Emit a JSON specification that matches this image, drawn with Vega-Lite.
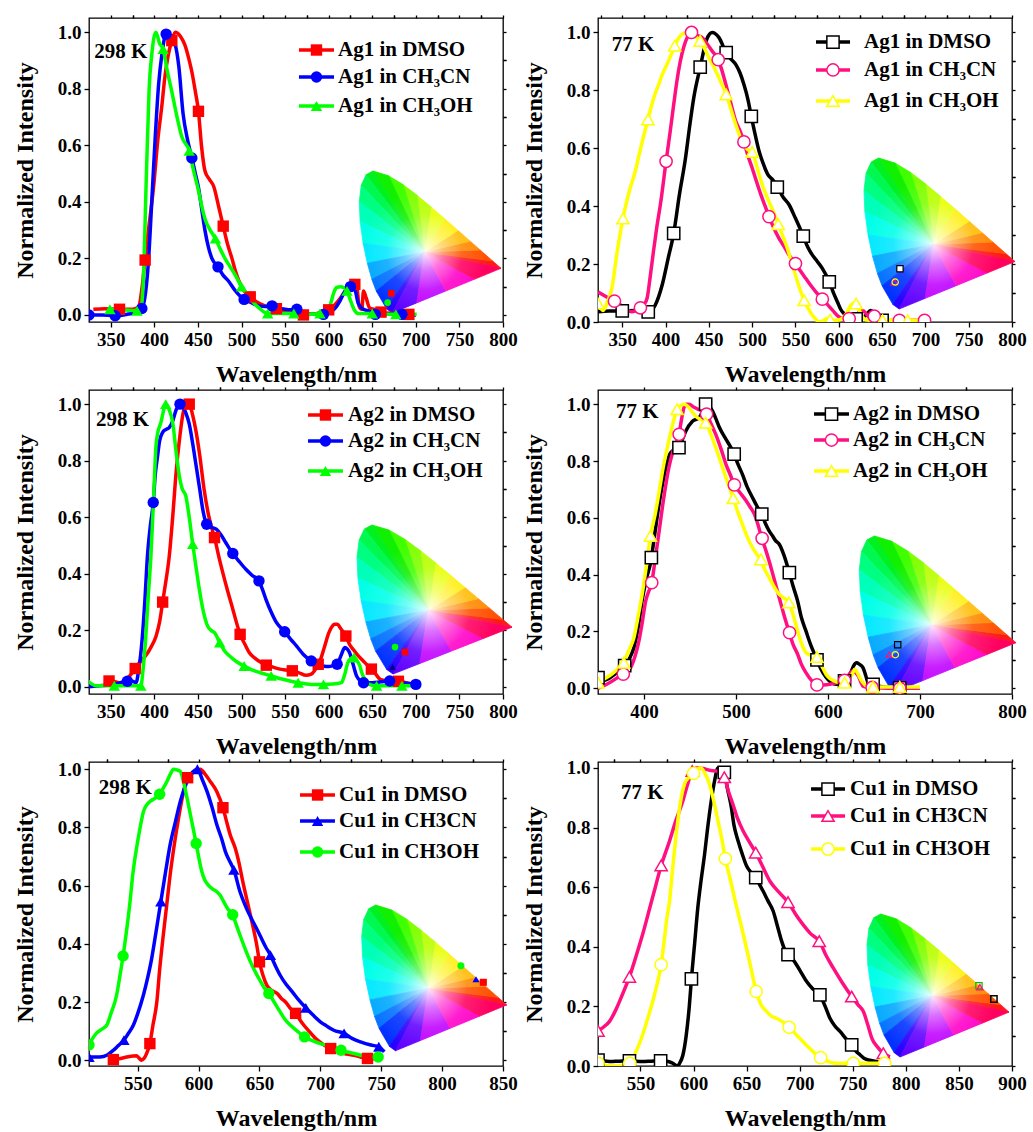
{
"$schema":"https://vega.github.io/schema/vega-lite/v6.json",
"background":"white",
"padding":{"left":12,"top":13,"right":0,"bottom":0},
"datasets":{
"cieT":[
{"t":"T0","cx":0.34,"y":0.36,"y2":0.36},{"t":"T0","cx":0.6915,"y":0.3083,"y2":0.2757},{"t":"T0","cx":0.7347,"y":0.2653,"y2":0.2653},
{"t":"T1","cx":0.34,"y":0.36,"y2":0.36},{"t":"T1","cx":0.627,"y":0.3725,"y2":0.3178},{"t":"T1","cx":0.6915,"y":0.3083,"y2":0.3083},
{"t":"T2","cx":0.34,"y":0.36,"y2":0.36},{"t":"T2","cx":0.5752,"y":0.4242,"y2":0.3702},{"t":"T2","cx":0.627,"y":0.3725,"y2":0.3725},
{"t":"T3","cx":0.34,"y":0.36,"y2":0.36},{"t":"T3","cx":0.5125,"y":0.4866,"y2":0.4071},{"t":"T3","cx":0.5752,"y":0.4242,"y2":0.4242},
{"t":"T4","cx":0.34,"y":0.36,"y2":0.36},{"t":"T4","cx":0.4441,"y":0.5547,"y2":0.4364},{"t":"T4","cx":0.5125,"y":0.4866,"y2":0.4866},
{"t":"T5","cx":0.34,"y":0.36,"y2":0.36},{"t":"T5","cx":0.3731,"y":0.6245,"y2":0.4219},{"t":"T5","cx":0.4441,"y":0.5547,"y2":0.5547},
{"t":"T6","cx":0.3016,"y":0.6923,"y2":0.6923},{"t":"T6","cx":0.34,"y":0.36,"y2":0.6559},{"t":"T6","cx":0.3731,"y":0.6245,"y2":0.6245},
{"t":"T7","cx":0.2296,"y":0.7543,"y2":0.7543},{"t":"T7","cx":0.3016,"y":0.6923,"y2":0.4971},{"t":"T7","cx":0.34,"y":0.36,"y2":0.36},
{"t":"T8","cx":0.1547,"y":0.8059,"y2":0.8059},{"t":"T8","cx":0.2296,"y":0.7543,"y2":0.6257},{"t":"T8","cx":0.34,"y":0.36,"y2":0.36},
{"t":"T9","cx":0.0743,"y":0.8338,"y2":0.8338},{"t":"T9","cx":0.1547,"y":0.8059,"y2":0.6904},{"t":"T9","cx":0.34,"y":0.36,"y2":0.36},
{"t":"T10","cx":0.0389,"y":0.812,"y2":0.812},{"t":"T10","cx":0.0743,"y":0.8338,"y2":0.7589},{"t":"T10","cx":0.34,"y":0.36,"y2":0.36},
{"t":"T11","cx":0.0139,"y":0.7502,"y2":0.7502},{"t":"T11","cx":0.0389,"y":0.812,"y2":0.7203},{"t":"T11","cx":0.34,"y":0.36,"y2":0.36},
{"t":"T12","cx":0.0039,"y":0.6548,"y2":0.6548},{"t":"T12","cx":0.0139,"y":0.7502,"y2":0.646},{"t":"T12","cx":0.34,"y":0.36,"y2":0.36},
{"t":"T13","cx":0.0039,"y":0.6548,"y2":0.6548},{"t":"T13","cx":0.0082,"y":0.5384,"y2":0.651},{"t":"T13","cx":0.34,"y":0.36,"y2":0.36},
{"t":"T14","cx":0.0082,"y":0.5384,"y2":0.5384},{"t":"T14","cx":0.0235,"y":0.4127,"y2":0.5302},{"t":"T14","cx":0.34,"y":0.36,"y2":0.36},
{"t":"T15","cx":0.0235,"y":0.4127,"y2":0.4127},{"t":"T15","cx":0.0454,"y":0.295,"y2":0.4091},{"t":"T15","cx":0.34,"y":0.36,"y2":0.36},
{"t":"T16","cx":0.0454,"y":0.295,"y2":0.295},{"t":"T16","cx":0.0687,"y":0.2007,"y2":0.3001},{"t":"T16","cx":0.34,"y":0.36,"y2":0.36},
{"t":"T17","cx":0.0687,"y":0.2007,"y2":0.2007},{"t":"T17","cx":0.0913,"y":0.1327,"y2":0.214},{"t":"T17","cx":0.34,"y":0.36,"y2":0.36},
{"t":"T18","cx":0.0913,"y":0.1327,"y2":0.1327},{"t":"T18","cx":0.144,"y":0.0297,"y2":0.1809},{"t":"T18","cx":0.34,"y":0.36,"y2":0.36},
{"t":"T19","cx":0.144,"y":0.0297,"y2":0.0297},{"t":"T19","cx":0.1741,"y":0.005,"y2":0.0804},{"t":"T19","cx":0.34,"y":0.36,"y2":0.36},
{"t":"T20","cx":0.1741,"y":0.005,"y2":0.005},{"t":"T20","cx":0.3,"y":0.0635,"y2":0.2744},{"t":"T20","cx":0.34,"y":0.36,"y2":0.36},
{"t":"T21","cx":0.3,"y":0.0635,"y2":0.0635},{"t":"T21","cx":0.34,"y":0.36,"y2":0.0821},{"t":"T21","cx":0.45,"y":0.1331,"y2":0.1331},
{"t":"T22","cx":0.34,"y":0.36,"y2":0.36},{"t":"T22","cx":0.45,"y":0.1331,"y2":0.2934},{"t":"T22","cx":0.6,"y":0.2027,"y2":0.2027},
{"t":"T23","cx":0.34,"y":0.36,"y2":0.36},{"t":"T23","cx":0.6,"y":0.2027,"y2":0.2976},{"t":"T23","cx":0.7347,"y":0.2653,"y2":0.2653}
],
"cieH":[
{"cx":0.0039,"top":0.6548,"bot":0.6548},{"cx":0.0082,"top":0.6958,"bot":0.5384},{"cx":0.0139,"top":0.7502,"bot":0.4916},{"cx":0.0235,"top":0.7739,"bot":0.4127},{"cx":0.0389,"top":0.812,"bot":0.3299},{"cx":0.0454,"top":0.816,"bot":0.295},{"cx":0.0687,"top":0.8304,"bot":0.2007},{"cx":0.0743,"top":0.8338,"bot":0.1839},{"cx":0.0913,"top":0.8306,"bot":0.1327},{"cx":0.1096,"top":0.8271,"bot":0.0868},{"cx":0.1142,"top":0.8262,"bot":0.0776},{"cx":0.1241,"top":0.8212,"bot":0.0578},{"cx":0.144,"top":0.8113,"bot":0.0297},{"cx":0.1547,"top":0.8059,"bot":0.0199},{"cx":0.1666,"top":0.7977,"bot":0.0089},{"cx":0.1741,"top":0.7925,"bot":0.005},{"cx":0.2296,"top":0.7543,"bot":0.0308},{"cx":0.3016,"top":0.6923,"bot":0.0642},{"cx":0.3731,"top":0.6245,"bot":0.0974},{"cx":0.4441,"top":0.5547,"bot":0.1304},{"cx":0.5125,"top":0.4866,"bot":0.1621},{"cx":0.5752,"top":0.4242,"bot":0.1912},{"cx":0.627,"top":0.3725,"bot":0.2153},{"cx":0.6915,"top":0.3083,"bot":0.2452},{"cx":0.726,"top":0.274,"bot":0.2612},{"cx":0.7347,"top":0.2653,"bot":0.2653}
],
"l1":[
{"s":"D","w":330,"v":0.02},{"s":"D","w":343,"v":0.022},{"s":"D","w":360,"v":0.02},{"s":"D","w":375,"v":0.02},{"s":"D","w":382,"v":0.03},{"s":"D","w":386,"v":0.1},{"s":"D","w":389,"v":0.19},{"s":"D","w":394,"v":0.32},{"s":"D","w":399,"v":0.45},{"s":"D","w":404,"v":0.62},{"s":"D","w":408.6,"v":0.74},{"s":"D","w":412,"v":0.84},{"s":"D","w":416,"v":0.92},{"s":"D","w":420,"v":0.97},{"s":"D","w":424,"v":1},{"s":"D","w":430,"v":0.985},{"s":"D","w":435,"v":0.955},{"s":"D","w":440,"v":0.9},{"s":"D","w":443,"v":0.86},{"s":"D","w":447,"v":0.79},{"s":"D","w":450.6,"v":0.72},{"s":"D","w":454,"v":0.6},{"s":"D","w":458,"v":0.51},{"s":"D","w":463,"v":0.48},{"s":"D","w":468,"v":0.455},{"s":"D","w":474,"v":0.38},{"s":"D","w":479,"v":0.314},{"s":"D","w":484,"v":0.25},{"s":"D","w":489,"v":0.2},{"s":"D","w":493,"v":0.155},{"s":"D","w":497,"v":0.12},{"s":"D","w":503,"v":0.085},{"s":"D","w":510,"v":0.064},{"s":"D","w":518,"v":0.045},{"s":"D","w":527,"v":0.032},{"s":"D","w":535,"v":0.025},{"s":"D","w":542.5,"v":0.02},{"s":"D","w":550,"v":0.012},{"s":"D","w":558,"v":0.008},{"s":"D","w":565,"v":0.003},{"s":"D","w":571,"v":0},{"s":"D","w":580,"v":0.002},{"s":"D","w":590,"v":0.008},{"s":"D","w":598,"v":0.014},{"s":"D","w":605,"v":0.03},{"s":"D","w":611,"v":0.05},{"s":"D","w":617,"v":0.075},{"s":"D","w":623,"v":0.096},{"s":"D","w":628,"v":0.11},{"s":"D","w":632,"v":0.105},{"s":"D","w":635,"v":0.03},{"s":"D","w":638,"v":0.02},{"s":"D","w":640,"v":0.085},{"s":"D","w":643,"v":0.06},{"s":"D","w":647,"v":0.025},{"s":"D","w":652,"v":0.02},{"s":"D","w":661,"v":0.01},{"s":"D","w":675,"v":0.005},{"s":"D","w":692,"v":0.002},{"s":"D","w":700,"v":0},
{"s":"C","w":325,"v":0},{"s":"C","w":340,"v":0},{"s":"C","w":355,"v":-0.003},{"s":"C","w":370,"v":0.003},{"s":"C","w":380,"v":0.01},{"s":"C","w":385.6,"v":0.023},{"s":"C","w":389,"v":0.06},{"s":"C","w":393,"v":0.18},{"s":"C","w":397,"v":0.4},{"s":"C","w":401,"v":0.63},{"s":"C","w":405,"v":0.82},{"s":"C","w":408.6,"v":0.92},{"s":"C","w":413.5,"v":0.993},{"s":"C","w":418,"v":0.99},{"s":"C","w":424,"v":0.955},{"s":"C","w":428,"v":0.88},{"s":"C","w":433,"v":0.71},{"s":"C","w":438,"v":0.62},{"s":"C","w":443,"v":0.555},{"s":"C","w":447,"v":0.5},{"s":"C","w":450.6,"v":0.45},{"s":"C","w":455,"v":0.36},{"s":"C","w":458,"v":0.3},{"s":"C","w":462,"v":0.24},{"s":"C","w":466,"v":0.2},{"s":"C","w":473,"v":0.17},{"s":"C","w":479,"v":0.14},{"s":"C","w":485,"v":0.12},{"s":"C","w":493,"v":0.085},{"s":"C","w":498,"v":0.068},{"s":"C","w":503,"v":0.055},{"s":"C","w":510,"v":0.045},{"s":"C","w":520,"v":0.032},{"s":"C","w":527,"v":0.03},{"s":"C","w":535,"v":0.032},{"s":"C","w":542,"v":0.025},{"s":"C","w":550,"v":0.02},{"s":"C","w":557,"v":0.018},{"s":"C","w":563.5,"v":0.02},{"s":"C","w":570,"v":0.01},{"s":"C","w":581,"v":0.002},{"s":"C","w":594,"v":0.002},{"s":"C","w":604,"v":0.014},{"s":"C","w":609,"v":0.03},{"s":"C","w":613,"v":0.05},{"s":"C","w":619,"v":0.085},{"s":"C","w":625,"v":0.1},{"s":"C","w":628,"v":0.095},{"s":"C","w":630.5,"v":0.085},{"s":"C","w":634,"v":0.04},{"s":"C","w":640,"v":0.02},{"s":"C","w":646,"v":0.014},{"s":"C","w":653.5,"v":0.002},{"s":"C","w":670,"v":0.002},{"s":"C","w":684,"v":0.002},{"s":"C","w":700,"v":0},
{"s":"O","w":349,"v":0.02},{"s":"O","w":365,"v":0.018},{"s":"O","w":378,"v":0.015},{"s":"O","w":384,"v":0.015},{"s":"O","w":387,"v":0.1},{"s":"O","w":391,"v":0.51},{"s":"O","w":394,"v":0.8},{"s":"O","w":397,"v":0.92},{"s":"O","w":401.7,"v":1},{"s":"O","w":406,"v":0.96},{"s":"O","w":410,"v":0.94},{"s":"O","w":415,"v":0.86},{"s":"O","w":420,"v":0.79},{"s":"O","w":426,"v":0.7},{"s":"O","w":431.5,"v":0.63},{"s":"O","w":440,"v":0.58},{"s":"O","w":445,"v":0.51},{"s":"O","w":450.6,"v":0.44},{"s":"O","w":454,"v":0.39},{"s":"O","w":458,"v":0.34},{"s":"O","w":464,"v":0.3},{"s":"O","w":470,"v":0.27},{"s":"O","w":476,"v":0.23},{"s":"O","w":481,"v":0.2},{"s":"O","w":487,"v":0.17},{"s":"O","w":493,"v":0.14},{"s":"O","w":500,"v":0.1},{"s":"O","w":506,"v":0.075},{"s":"O","w":512,"v":0.05},{"s":"O","w":520,"v":0.025},{"s":"O","w":530,"v":0.005},{"s":"O","w":546,"v":0.005},{"s":"O","w":560,"v":0.005},{"s":"O","w":577,"v":0.002},{"s":"O","w":590,"v":0.005},{"s":"O","w":597,"v":0.015},{"s":"O","w":602,"v":0.038},{"s":"O","w":606,"v":0.08},{"s":"O","w":609,"v":0.097},{"s":"O","w":614,"v":0.1},{"s":"O","w":617,"v":0.097},{"s":"O","w":621,"v":0.085},{"s":"O","w":624,"v":0.06},{"s":"O","w":626.6,"v":0.038},{"s":"O","w":630,"v":0.015},{"s":"O","w":634,"v":0.005},{"s":"O","w":650,"v":0.005},{"s":"O","w":676.5,"v":0.002},{"s":"O","w":701,"v":0.002}
],
"m1":[
{"s":"D","w":360,"v":0.02},{"s":"D","w":389.4,"v":0.194},{"s":"D","w":420,"v":0.97},{"s":"D","w":450.6,"v":0.72},{"s":"D","w":479,"v":0.314},{"s":"D","w":510,"v":0.064},{"s":"D","w":540,"v":0.022},{"s":"D","w":571,"v":0},{"s":"D","w":600,"v":0.018},{"s":"D","w":630,"v":0.108},{"s":"D","w":660,"v":0.01},{"s":"D","w":692,"v":0.002},
{"s":"C","w":325,"v":0},{"s":"C","w":355,"v":-0.003},{"s":"C","w":385.6,"v":0.023},{"s":"C","w":413.5,"v":0.993},{"s":"C","w":443,"v":0.555},{"s":"C","w":473,"v":0.17},{"s":"C","w":503,"v":0.055},{"s":"C","w":535,"v":0.032},{"s":"C","w":563.5,"v":0.02},{"s":"C","w":594,"v":0.002},{"s":"C","w":625,"v":0.1},{"s":"C","w":653.5,"v":0.002},{"s":"C","w":684,"v":0.002},
{"s":"O","w":349,"v":0.02},{"s":"O","w":380,"v":0.015},{"s":"O","w":410,"v":0.94},{"s":"O","w":440,"v":0.58},{"s":"O","w":470,"v":0.27},{"s":"O","w":500,"v":0.1},{"s":"O","w":530,"v":0.005},{"s":"O","w":560,"v":0.005},{"s":"O","w":590,"v":0.005},{"s":"O","w":621,"v":0.085},{"s":"O","w":650,"v":0.005},{"s":"O","w":677,"v":0.002}
],
"l2":[
{"s":"D","w":322,"v":0.035},{"s":"D","w":335,"v":0.038},{"s":"D","w":350,"v":0.038},{"s":"D","w":365,"v":0.04},{"s":"D","w":380,"v":0.035},{"s":"D","w":388,"v":0.058},{"s":"D","w":396,"v":0.127},{"s":"D","w":403,"v":0.22},{"s":"D","w":409.4,"v":0.306},{"s":"D","w":416,"v":0.44},{"s":"D","w":423,"v":0.566},{"s":"D","w":428,"v":0.68},{"s":"D","w":432.6,"v":0.775},{"s":"D","w":440,"v":0.88},{"s":"D","w":448,"v":0.98},{"s":"D","w":453.8,"v":1},{"s":"D","w":461.5,"v":0.983},{"s":"D","w":470,"v":0.93},{"s":"D","w":475,"v":0.91},{"s":"D","w":481,"v":0.89},{"s":"D","w":486,"v":0.86},{"s":"D","w":490.5,"v":0.82},{"s":"D","w":495,"v":0.77},{"s":"D","w":499,"v":0.71},{"s":"D","w":504,"v":0.64},{"s":"D","w":508,"v":0.59},{"s":"D","w":513,"v":0.545},{"s":"D","w":518,"v":0.51},{"s":"D","w":524,"v":0.49},{"s":"D","w":529,"v":0.466},{"s":"D","w":536,"v":0.43},{"s":"D","w":542.6,"v":0.405},{"s":"D","w":550,"v":0.358},{"s":"D","w":559,"v":0.297},{"s":"D","w":564,"v":0.26},{"s":"D","w":569.6,"v":0.231},{"s":"D","w":575,"v":0.21},{"s":"D","w":581,"v":0.185},{"s":"D","w":589,"v":0.139},{"s":"D","w":594,"v":0.1},{"s":"D","w":598.5,"v":0.069},{"s":"D","w":602,"v":0.045},{"s":"D","w":606,"v":0.029},{"s":"D","w":616,"v":0.012},{"s":"D","w":623.6,"v":0.009},{"s":"D","w":631,"v":0.023},{"s":"D","w":637,"v":0.04},{"s":"D","w":641,"v":0.03},{"s":"D","w":645,"v":0.015},{"s":"D","w":650.6,"v":0.006},{"s":"D","w":665,"v":0.004},{"s":"D","w":680,"v":0.004},
{"s":"C","w":322,"v":0.104},{"s":"C","w":330,"v":0.09},{"s":"C","w":341,"v":0.072},{"s":"C","w":350,"v":0.055},{"s":"C","w":361,"v":0.035},{"s":"C","w":366,"v":0.04},{"s":"C","w":371,"v":0.049},{"s":"C","w":375,"v":0.06},{"s":"C","w":378.6,"v":0.081},{"s":"C","w":382,"v":0.15},{"s":"C","w":386,"v":0.243},{"s":"C","w":390,"v":0.33},{"s":"C","w":394,"v":0.405},{"s":"C","w":400.6,"v":0.555},{"s":"C","w":405,"v":0.65},{"s":"C","w":409.4,"v":0.751},{"s":"C","w":413,"v":0.83},{"s":"C","w":417,"v":0.9},{"s":"C","w":421,"v":0.95},{"s":"C","w":425,"v":0.983},{"s":"C","w":430,"v":1},{"s":"C","w":436,"v":0.99},{"s":"C","w":442,"v":0.983},{"s":"C","w":448,"v":0.96},{"s":"C","w":453.8,"v":0.936},{"s":"C","w":460.8,"v":0.906},{"s":"C","w":465,"v":0.87},{"s":"C","w":469,"v":0.827},{"s":"C","w":475,"v":0.76},{"s":"C","w":481,"v":0.694},{"s":"C","w":486,"v":0.66},{"s":"C","w":490.5,"v":0.622},{"s":"C","w":495,"v":0.575},{"s":"C","w":500,"v":0.532},{"s":"C","w":505,"v":0.485},{"s":"C","w":510,"v":0.44},{"s":"C","w":515,"v":0.4},{"s":"C","w":519.4,"v":0.364},{"s":"C","w":525,"v":0.325},{"s":"C","w":531,"v":0.289},{"s":"C","w":537,"v":0.26},{"s":"C","w":542.6,"v":0.231},{"s":"C","w":550,"v":0.202},{"s":"C","w":556,"v":0.175},{"s":"C","w":562,"v":0.15},{"s":"C","w":568,"v":0.125},{"s":"C","w":573.5,"v":0.104},{"s":"C","w":581,"v":0.079},{"s":"C","w":587,"v":0.06},{"s":"C","w":593,"v":0.04},{"s":"C","w":600.5,"v":0.017},{"s":"C","w":606,"v":0.012},{"s":"C","w":612,"v":0.012},{"s":"C","w":620,"v":0.023},{"s":"C","w":624,"v":0.035},{"s":"C","w":627.5,"v":0.04},{"s":"C","w":631,"v":0.03},{"s":"C","w":635,"v":0.017},{"s":"C","w":643,"v":0.006},{"s":"C","w":655,"v":0.005},{"s":"C","w":670,"v":0.006},{"s":"C","w":685,"v":0.006},{"s":"C","w":699,"v":0.006},
{"s":"O","w":322,"v":0.064},{"s":"O","w":328,"v":0.04},{"s":"O","w":333,"v":0.07},{"s":"O","w":338,"v":0.116},{"s":"O","w":344,"v":0.24},{"s":"O","w":350.8,"v":0.358},{"s":"O","w":358,"v":0.45},{"s":"O","w":365,"v":0.52},{"s":"O","w":372,"v":0.61},{"s":"O","w":379.7,"v":0.7},{"s":"O","w":386,"v":0.77},{"s":"O","w":392,"v":0.82},{"s":"O","w":397,"v":0.86},{"s":"O","w":401.7,"v":0.89},{"s":"O","w":406,"v":0.92},{"s":"O","w":410.6,"v":0.954},{"s":"O","w":415,"v":0.98},{"s":"O","w":419,"v":0.994},{"s":"O","w":425,"v":1},{"s":"O","w":432,"v":0.99},{"s":"O","w":440,"v":0.971},{"s":"O","w":445,"v":0.945},{"s":"O","w":450,"v":0.913},{"s":"O","w":456,"v":0.88},{"s":"O","w":461.5,"v":0.844},{"s":"O","w":466,"v":0.815},{"s":"O","w":470,"v":0.786},{"s":"O","w":475,"v":0.74},{"s":"O","w":481,"v":0.682},{"s":"O","w":486,"v":0.64},{"s":"O","w":490.5,"v":0.613},{"s":"O","w":495,"v":0.595},{"s":"O","w":500,"v":0.587},{"s":"O","w":506,"v":0.53},{"s":"O","w":511.7,"v":0.474},{"s":"O","w":516,"v":0.44},{"s":"O","w":521,"v":0.405},{"s":"O","w":526,"v":0.37},{"s":"O","w":530,"v":0.338},{"s":"O","w":535,"v":0.3},{"s":"O","w":540.7,"v":0.254},{"s":"O","w":545,"v":0.21},{"s":"O","w":550,"v":0.162},{"s":"O","w":555,"v":0.115},{"s":"O","w":560,"v":0.075},{"s":"O","w":565,"v":0.045},{"s":"O","w":569.6,"v":0.023},{"s":"O","w":574,"v":0.008},{"s":"O","w":577,"v":0},{"s":"O","w":582,"v":0.005},{"s":"O","w":587,"v":0.012},{"s":"O","w":593,"v":0.006},{"s":"O","w":598,"v":0.006},{"s":"O","w":604,"v":0.012},{"s":"O","w":609,"v":0.03},{"s":"O","w":614,"v":0.058},{"s":"O","w":617,"v":0.065},{"s":"O","w":620,"v":0.064},{"s":"O","w":623,"v":0.045},{"s":"O","w":627.5,"v":0.017},{"s":"O","w":631,"v":0.008},{"s":"O","w":635,"v":0.006},{"s":"O","w":650.6,"v":0.006},{"s":"O","w":665,"v":0.006},{"s":"O","w":679.6,"v":0.006},{"s":"O","w":701,"v":0.006}
],
"m2":[
{"s":"D","w":350,"v":0.038},{"s":"D","w":380,"v":0.035},{"s":"D","w":409.4,"v":0.306},{"s":"D","w":440,"v":0.88},{"s":"D","w":470,"v":0.93},{"s":"D","w":499,"v":0.71},{"s":"D","w":529,"v":0.466},{"s":"D","w":559,"v":0.297},{"s":"D","w":589,"v":0.139},{"s":"D","w":620,"v":0.011},{"s":"D","w":650,"v":0.006},
{"s":"C","w":341,"v":0.072},{"s":"C","w":371,"v":0.049},{"s":"C","w":400.6,"v":0.555},{"s":"C","w":430,"v":1},{"s":"C","w":460.8,"v":0.906},{"s":"C","w":490.5,"v":0.622},{"s":"C","w":519.4,"v":0.364},{"s":"C","w":550,"v":0.202},{"s":"C","w":581,"v":0.079},{"s":"C","w":612,"v":0.012},{"s":"C","w":641,"v":0.02},{"s":"C","w":670,"v":0.006},{"s":"C","w":699,"v":0.006},
{"s":"O","w":322,"v":0.064},{"s":"O","w":350.8,"v":0.358},{"s":"O","w":379.7,"v":0.7},{"s":"O","w":410.6,"v":0.954},{"s":"O","w":440,"v":0.971},{"s":"O","w":470,"v":0.786},{"s":"O","w":500,"v":0.587},{"s":"O","w":530,"v":0.338},{"s":"O","w":560,"v":0.075},{"s":"O","w":590,"v":0.008},{"s":"O","w":620,"v":0.064},{"s":"O","w":650.6,"v":0.006},{"s":"O","w":679.6,"v":0.006}
],
"l3":[
{"s":"D","w":348,"v":0.021},{"s":"D","w":355,"v":0.018},{"s":"D","w":359.6,"v":0.015},{"s":"D","w":365,"v":0.02},{"s":"D","w":372,"v":0.04},{"s":"D","w":378,"v":0.065},{"s":"D","w":384,"v":0.09},{"s":"D","w":390,"v":0.11},{"s":"D","w":396,"v":0.14},{"s":"D","w":402,"v":0.18},{"s":"D","w":406,"v":0.23},{"s":"D","w":409.5,"v":0.3},{"s":"D","w":413,"v":0.37},{"s":"D","w":417,"v":0.46},{"s":"D","w":421,"v":0.6},{"s":"D","w":425,"v":0.76},{"s":"D","w":429,"v":0.88},{"s":"D","w":434,"v":0.98},{"s":"D","w":440,"v":1},{"s":"D","w":444,"v":0.96},{"s":"D","w":448,"v":0.9},{"s":"D","w":452,"v":0.82},{"s":"D","w":457,"v":0.7},{"s":"D","w":462,"v":0.61},{"s":"D","w":466,"v":0.56},{"s":"D","w":469,"v":0.528},{"s":"D","w":474,"v":0.46},{"s":"D","w":478.5,"v":0.404},{"s":"D","w":484,"v":0.34},{"s":"D","w":490,"v":0.275},{"s":"D","w":494,"v":0.23},{"s":"D","w":498.4,"v":0.186},{"s":"D","w":504,"v":0.15},{"s":"D","w":509,"v":0.121},{"s":"D","w":516,"v":0.1},{"s":"D","w":522.6,"v":0.086},{"s":"D","w":528,"v":0.077},{"s":"D","w":536,"v":0.07},{"s":"D","w":544,"v":0.063},{"s":"D","w":551,"v":0.06},{"s":"D","w":558,"v":0.057},{"s":"D","w":566,"v":0.05},{"s":"D","w":574,"v":0.041},{"s":"D","w":580,"v":0.045},{"s":"D","w":586,"v":0.068},{"s":"D","w":591,"v":0.1},{"s":"D","w":595.5,"v":0.145},{"s":"D","w":600,"v":0.19},{"s":"D","w":603,"v":0.21},{"s":"D","w":607,"v":0.222},{"s":"D","w":610,"v":0.222},{"s":"D","w":613,"v":0.21},{"s":"D","w":616.6,"v":0.195},{"s":"D","w":619.7,"v":0.18},{"s":"D","w":624,"v":0.15},{"s":"D","w":628,"v":0.133},{"s":"D","w":634,"v":0.11},{"s":"D","w":639.6,"v":0.092},{"s":"D","w":645,"v":0.075},{"s":"D","w":649,"v":0.063},{"s":"D","w":654,"v":0.045},{"s":"D","w":659,"v":0.027},{"s":"D","w":665,"v":0.022},{"s":"D","w":672,"v":0.02},{"s":"D","w":680,"v":0.02},{"s":"D","w":690,"v":0.014},{"s":"D","w":699,"v":0.009},
{"s":"C","w":324,"v":0},{"s":"C","w":340,"v":0.005},{"s":"C","w":355,"v":0.01},{"s":"C","w":369,"v":0.02},{"s":"C","w":375,"v":0.02},{"s":"C","w":379,"v":0.015},{"s":"C","w":382,"v":0.06},{"s":"C","w":386,"v":0.17},{"s":"C","w":389,"v":0.3},{"s":"C","w":392,"v":0.46},{"s":"C","w":395,"v":0.56},{"s":"C","w":398.7,"v":0.652},{"s":"C","w":401,"v":0.75},{"s":"C","w":403.7,"v":0.817},{"s":"C","w":406,"v":0.87},{"s":"C","w":409.5,"v":0.9},{"s":"C","w":413,"v":0.91},{"s":"C","w":417,"v":0.917},{"s":"C","w":421,"v":0.94},{"s":"C","w":425,"v":0.98},{"s":"C","w":429.4,"v":1},{"s":"C","w":433,"v":0.99},{"s":"C","w":436,"v":0.97},{"s":"C","w":440,"v":0.93},{"s":"C","w":444,"v":0.86},{"s":"C","w":448,"v":0.78},{"s":"C","w":452,"v":0.7},{"s":"C","w":456,"v":0.62},{"s":"C","w":460,"v":0.575},{"s":"C","w":465,"v":0.565},{"s":"C","w":471,"v":0.558},{"s":"C","w":476,"v":0.54},{"s":"C","w":482,"v":0.51},{"s":"C","w":486,"v":0.49},{"s":"C","w":490,"v":0.472},{"s":"C","w":497,"v":0.445},{"s":"C","w":505,"v":0.416},{"s":"C","w":512,"v":0.395},{"s":"C","w":520,"v":0.375},{"s":"C","w":524,"v":0.345},{"s":"C","w":528,"v":0.31},{"s":"C","w":534,"v":0.265},{"s":"C","w":540,"v":0.228},{"s":"C","w":549.5,"v":0.195},{"s":"C","w":556,"v":0.17},{"s":"C","w":563,"v":0.145},{"s":"C","w":571,"v":0.115},{"s":"C","w":580,"v":0.092},{"s":"C","w":587,"v":0.08},{"s":"C","w":593.6,"v":0.074},{"s":"C","w":600,"v":0.072},{"s":"C","w":605,"v":0.075},{"s":"C","w":609.7,"v":0.08},{"s":"C","w":614,"v":0.11},{"s":"C","w":618.5,"v":0.139},{"s":"C","w":621,"v":0.135},{"s":"C","w":624,"v":0.121},{"s":"C","w":628,"v":0.08},{"s":"C","w":632,"v":0.039},{"s":"C","w":636,"v":0.022},{"s":"C","w":640,"v":0.015},{"s":"C","w":650,"v":0.015},{"s":"C","w":660,"v":0.018},{"s":"C","w":670,"v":0.021},{"s":"C","w":685,"v":0.015},{"s":"C","w":700,"v":0.009},
{"s":"O","w":324,"v":0.021},{"s":"O","w":333,"v":0.004},{"s":"O","w":345,"v":0.004},{"s":"O","w":354,"v":0.004},{"s":"O","w":370,"v":0.004},{"s":"O","w":384.5,"v":0.004},{"s":"O","w":387,"v":0.06},{"s":"O","w":390,"v":0.17},{"s":"O","w":393,"v":0.32},{"s":"O","w":396,"v":0.46},{"s":"O","w":399,"v":0.66},{"s":"O","w":401.8,"v":0.85},{"s":"O","w":404,"v":0.9},{"s":"O","w":407.5,"v":0.935},{"s":"O","w":410,"v":0.97},{"s":"O","w":413,"v":1},{"s":"O","w":417,"v":0.98},{"s":"O","w":421,"v":0.935},{"s":"O","w":425,"v":0.83},{"s":"O","w":428.6,"v":0.746},{"s":"O","w":432,"v":0.7},{"s":"O","w":436,"v":0.676},{"s":"O","w":440,"v":0.6},{"s":"O","w":444,"v":0.505},{"s":"O","w":448,"v":0.42},{"s":"O","w":451.6,"v":0.345},{"s":"O","w":456,"v":0.27},{"s":"O","w":461,"v":0.216},{"s":"O","w":465,"v":0.2},{"s":"O","w":469,"v":0.192},{"s":"O","w":475,"v":0.157},{"s":"O","w":480,"v":0.13},{"s":"O","w":486,"v":0.11},{"s":"O","w":494,"v":0.09},{"s":"O","w":503,"v":0.074},{"s":"O","w":512,"v":0.06},{"s":"O","w":520.7,"v":0.051},{"s":"O","w":534,"v":0.039},{"s":"O","w":547.5,"v":0.027},{"s":"O","w":565,"v":0.015},{"s":"O","w":580,"v":0.009},{"s":"O","w":594,"v":0.009},{"s":"O","w":605,"v":0.01},{"s":"O","w":614.7,"v":0.015},{"s":"O","w":618,"v":0.04},{"s":"O","w":622,"v":0.086},{"s":"O","w":625,"v":0.1},{"s":"O","w":629,"v":0.104},{"s":"O","w":632,"v":0.095},{"s":"O","w":635.8,"v":0.074},{"s":"O","w":638,"v":0.05},{"s":"O","w":641.5,"v":0.027},{"s":"O","w":646,"v":0.01},{"s":"O","w":655,"v":0.004},{"s":"O","w":670,"v":0.004},{"s":"O","w":684,"v":0.004},{"s":"O","w":699,"v":0.004}
],
"m3":[
{"s":"D","w":348,"v":0.021},{"s":"D","w":378,"v":0.065},{"s":"D","w":409.5,"v":0.3},{"s":"D","w":440,"v":1},{"s":"D","w":469,"v":0.528},{"s":"D","w":498.4,"v":0.186},{"s":"D","w":528.4,"v":0.077},{"s":"D","w":558.3,"v":0.057},{"s":"D","w":588,"v":0.08},{"s":"D","w":619.7,"v":0.18},{"s":"D","w":649,"v":0.063},{"s":"D","w":680,"v":0.02},
{"s":"C","w":369,"v":0.02},{"s":"C","w":398.7,"v":0.652},{"s":"C","w":429.4,"v":1},{"s":"C","w":460,"v":0.575},{"s":"C","w":490,"v":0.472},{"s":"C","w":520,"v":0.375},{"s":"C","w":549.5,"v":0.195},{"s":"C","w":580,"v":0.092},{"s":"C","w":609.7,"v":0.08},{"s":"C","w":640,"v":0.015},{"s":"C","w":670,"v":0.021},{"s":"C","w":700,"v":0.009},
{"s":"O","w":354,"v":0.004},{"s":"O","w":384.5,"v":0.004},{"s":"O","w":413,"v":1},{"s":"O","w":444,"v":0.505},{"s":"O","w":475,"v":0.157},{"s":"O","w":503,"v":0.074},{"s":"O","w":534,"v":0.039},{"s":"O","w":565,"v":0.015},{"s":"O","w":594,"v":0.009},{"s":"O","w":629,"v":0.104},{"s":"O","w":655,"v":0.004},{"s":"O","w":684,"v":0.004}
],
"l4":[
{"s":"D","w":350,"v":0.038},{"s":"D","w":354.5,"v":0.026},{"s":"D","w":362,"v":0.035},{"s":"D","w":372.7,"v":0.061},{"s":"D","w":380,"v":0.08},{"s":"D","w":385,"v":0.11},{"s":"D","w":389,"v":0.143},{"s":"D","w":394,"v":0.22},{"s":"D","w":398,"v":0.31},{"s":"D","w":403,"v":0.39},{"s":"D","w":407,"v":0.44},{"s":"D","w":412,"v":0.55},{"s":"D","w":416,"v":0.64},{"s":"D","w":420,"v":0.718},{"s":"D","w":424,"v":0.78},{"s":"D","w":428,"v":0.824},{"s":"D","w":433,"v":0.84},{"s":"D","w":438,"v":0.847},{"s":"D","w":441,"v":0.87},{"s":"D","w":445.5,"v":0.906},{"s":"D","w":452.7,"v":0.94},{"s":"D","w":460,"v":0.953},{"s":"D","w":463,"v":0.97},{"s":"D","w":466.5,"v":1},{"s":"D","w":470,"v":0.995},{"s":"D","w":474.5,"v":0.976},{"s":"D","w":478,"v":0.95},{"s":"D","w":482,"v":0.918},{"s":"D","w":489,"v":0.877},{"s":"D","w":494,"v":0.85},{"s":"D","w":498,"v":0.824},{"s":"D","w":502,"v":0.79},{"s":"D","w":507,"v":0.753},{"s":"D","w":512,"v":0.71},{"s":"D","w":518,"v":0.671},{"s":"D","w":523,"v":0.64},{"s":"D","w":528,"v":0.613},{"s":"D","w":532,"v":0.58},{"s":"D","w":536,"v":0.554},{"s":"D","w":540,"v":0.535},{"s":"D","w":543,"v":0.52},{"s":"D","w":547,"v":0.507},{"s":"D","w":552,"v":0.47},{"s":"D","w":558,"v":0.407},{"s":"D","w":562,"v":0.36},{"s":"D","w":567,"v":0.307},{"s":"D","w":571,"v":0.25},{"s":"D","w":576,"v":0.202},{"s":"D","w":581,"v":0.155},{"s":"D","w":587,"v":0.108},{"s":"D","w":592,"v":0.07},{"s":"D","w":598,"v":0.038},{"s":"D","w":603,"v":0.022},{"s":"D","w":609,"v":0.014},{"s":"D","w":614,"v":0.018},{"s":"D","w":618,"v":0.026},{"s":"D","w":622,"v":0.04},{"s":"D","w":625.5,"v":0.061},{"s":"D","w":628,"v":0.08},{"s":"D","w":631,"v":0.09},{"s":"D","w":634,"v":0.085},{"s":"D","w":638,"v":0.073},{"s":"D","w":641,"v":0.045},{"s":"D","w":643.6,"v":0.02},{"s":"D","w":649,"v":0.014},{"s":"D","w":660,"v":0.005},{"s":"D","w":678,"v":0.002},{"s":"D","w":700,"v":0.002},
{"s":"C","w":350,"v":0},{"s":"C","w":360,"v":0.015},{"s":"C","w":370,"v":0.035},{"s":"C","w":376,"v":0.049},{"s":"C","w":381,"v":0.06},{"s":"C","w":385.5,"v":0.073},{"s":"C","w":390,"v":0.11},{"s":"C","w":394.5,"v":0.167},{"s":"C","w":398,"v":0.23},{"s":"C","w":401.8,"v":0.307},{"s":"C","w":405,"v":0.34},{"s":"C","w":408.4,"v":0.372},{"s":"C","w":412,"v":0.45},{"s":"C","w":416,"v":0.542},{"s":"C","w":421,"v":0.66},{"s":"C","w":427,"v":0.777},{"s":"C","w":432,"v":0.84},{"s":"C","w":438,"v":0.894},{"s":"C","w":441,"v":0.95},{"s":"C","w":443.6,"v":0.99},{"s":"C","w":446,"v":1},{"s":"C","w":449,"v":1},{"s":"C","w":454,"v":0.99},{"s":"C","w":459,"v":0.982},{"s":"C","w":464,"v":0.975},{"s":"C","w":468,"v":0.965},{"s":"C","w":473,"v":0.93},{"s":"C","w":478,"v":0.894},{"s":"C","w":484,"v":0.84},{"s":"C","w":489,"v":0.789},{"s":"C","w":494,"v":0.75},{"s":"C","w":498,"v":0.716},{"s":"C","w":504,"v":0.69},{"s":"C","w":511,"v":0.66},{"s":"C","w":515,"v":0.64},{"s":"C","w":520,"v":0.613},{"s":"C","w":524,"v":0.575},{"s":"C","w":528,"v":0.528},{"s":"C","w":532,"v":0.49},{"s":"C","w":536,"v":0.448},{"s":"C","w":541,"v":0.39},{"s":"C","w":547,"v":0.319},{"s":"C","w":552,"v":0.26},{"s":"C","w":558,"v":0.196},{"s":"C","w":562,"v":0.155},{"s":"C","w":567,"v":0.12},{"s":"C","w":571,"v":0.085},{"s":"C","w":576,"v":0.055},{"s":"C","w":582,"v":0.028},{"s":"C","w":588,"v":0.012},{"s":"C","w":595,"v":0.012},{"s":"C","w":602,"v":0.014},{"s":"C","w":610,"v":0.02},{"s":"C","w":618,"v":0.028},{"s":"C","w":622,"v":0.045},{"s":"C","w":627,"v":0.061},{"s":"C","w":630,"v":0.055},{"s":"C","w":633,"v":0.043},{"s":"C","w":636,"v":0.02},{"s":"C","w":638,"v":0.008},{"s":"C","w":645,"v":0.003},{"s":"C","w":651,"v":0.002},{"s":"C","w":678,"v":0},{"s":"C","w":700,"v":0},
{"s":"O","w":350,"v":0.02},{"s":"O","w":356,"v":0.032},{"s":"O","w":365,"v":0.05},{"s":"O","w":372,"v":0.07},{"s":"O","w":378,"v":0.09},{"s":"O","w":383,"v":0.13},{"s":"O","w":389,"v":0.178},{"s":"O","w":394,"v":0.26},{"s":"O","w":398,"v":0.331},{"s":"O","w":403,"v":0.44},{"s":"O","w":407,"v":0.536},{"s":"O","w":412,"v":0.61},{"s":"O","w":416,"v":0.683},{"s":"O","w":421,"v":0.78},{"s":"O","w":427,"v":0.871},{"s":"O","w":432,"v":0.94},{"s":"O","w":436,"v":0.982},{"s":"O","w":440,"v":0.995},{"s":"O","w":443.6,"v":1},{"s":"O","w":449,"v":0.988},{"s":"O","w":453,"v":0.97},{"s":"O","w":458,"v":0.953},{"s":"O","w":463,"v":0.945},{"s":"O","w":467,"v":0.935},{"s":"O","w":472,"v":0.9},{"s":"O","w":478,"v":0.847},{"s":"O","w":484,"v":0.79},{"s":"O","w":489,"v":0.742},{"s":"O","w":497,"v":0.669},{"s":"O","w":502,"v":0.62},{"s":"O","w":507,"v":0.577},{"s":"O","w":512,"v":0.535},{"s":"O","w":518,"v":0.495},{"s":"O","w":523,"v":0.47},{"s":"O","w":527,"v":0.454},{"s":"O","w":531,"v":0.42},{"s":"O","w":536,"v":0.39},{"s":"O","w":541,"v":0.36},{"s":"O","w":547,"v":0.331},{"s":"O","w":551,"v":0.32},{"s":"O","w":557.5,"v":0.302},{"s":"O","w":562,"v":0.26},{"s":"O","w":567,"v":0.202},{"s":"O","w":571,"v":0.16},{"s":"O","w":576,"v":0.126},{"s":"O","w":582,"v":0.115},{"s":"O","w":588,"v":0.11},{"s":"O","w":593,"v":0.08},{"s":"O","w":598,"v":0.049},{"s":"O","w":602,"v":0.035},{"s":"O","w":607,"v":0.026},{"s":"O","w":612,"v":0.02},{"s":"O","w":618,"v":0.02},{"s":"O","w":624,"v":0.038},{"s":"O","w":627,"v":0.055},{"s":"O","w":629,"v":0.067},{"s":"O","w":631,"v":0.06},{"s":"O","w":634.5,"v":0.038},{"s":"O","w":638,"v":0.02},{"s":"O","w":642,"v":0.008},{"s":"O","w":649,"v":0.005},{"s":"O","w":665,"v":0.005},{"s":"O","w":678,"v":0.005},{"s":"O","w":700,"v":0.005}
],
"m4":[
{"s":"D","w":350,"v":0.038},{"s":"D","w":379,"v":0.08},{"s":"D","w":408,"v":0.46},{"s":"D","w":438,"v":0.847},{"s":"D","w":467,"v":1},{"s":"D","w":498,"v":0.824},{"s":"D","w":528,"v":0.613},{"s":"D","w":558,"v":0.407},{"s":"D","w":588,"v":0.1},{"s":"D","w":618,"v":0.026},{"s":"D","w":649,"v":0.014},{"s":"D","w":678,"v":0.002},
{"s":"C","w":377.5,"v":0.05},{"s":"C","w":408.4,"v":0.372},{"s":"C","w":438.2,"v":0.894},{"s":"C","w":468,"v":0.965},{"s":"C","w":498.2,"v":0.716},{"s":"C","w":528.4,"v":0.528},{"s":"C","w":558.2,"v":0.196},{"s":"C","w":588,"v":0.012},{"s":"C","w":618,"v":0.028},{"s":"C","w":648,"v":0.003},{"s":"C","w":678,"v":0},
{"s":"O","w":350,"v":0.02},{"s":"O","w":378,"v":0.09},{"s":"O","w":407,"v":0.536},{"s":"O","w":436,"v":0.982},{"s":"O","w":467,"v":0.935},{"s":"O","w":497,"v":0.669},{"s":"O","w":527,"v":0.454},{"s":"O","w":557.5,"v":0.302},{"s":"O","w":588,"v":0.11},{"s":"O","w":618,"v":0.02},{"s":"O","w":649,"v":0.005},{"s":"O","w":678,"v":0.005}
],
"l5":[
{"s":"D","w":530,"v":0.002},{"s":"D","w":536,"v":0.006},{"s":"D","w":541,"v":0.011},{"s":"D","w":546,"v":0.014},{"s":"D","w":549,"v":0.015},{"s":"D","w":551,"v":0.008},{"s":"D","w":553,"v":0},{"s":"D","w":555,"v":0.005},{"s":"D","w":557,"v":0.02},{"s":"D","w":560,"v":0.057},{"s":"D","w":562.5,"v":0.12},{"s":"D","w":565.7,"v":0.2},{"s":"D","w":568,"v":0.31},{"s":"D","w":571,"v":0.43},{"s":"D","w":574,"v":0.54},{"s":"D","w":576.6,"v":0.636},{"s":"D","w":580,"v":0.74},{"s":"D","w":583.5,"v":0.831},{"s":"D","w":587,"v":0.91},{"s":"D","w":591,"v":0.971},{"s":"D","w":594,"v":0.985},{"s":"D","w":597,"v":0.992},{"s":"D","w":601.4,"v":1},{"s":"D","w":605,"v":0.985},{"s":"D","w":609.6,"v":0.958},{"s":"D","w":615,"v":0.923},{"s":"D","w":620,"v":0.868},{"s":"D","w":623,"v":0.82},{"s":"D","w":626,"v":0.774},{"s":"D","w":630,"v":0.73},{"s":"D","w":633,"v":0.682},{"s":"D","w":636,"v":0.62},{"s":"D","w":640,"v":0.545},{"s":"D","w":643,"v":0.49},{"s":"D","w":645,"v":0.453},{"s":"D","w":648,"v":0.39},{"s":"D","w":650,"v":0.338},{"s":"D","w":653,"v":0.29},{"s":"D","w":656,"v":0.258},{"s":"D","w":660,"v":0.24},{"s":"D","w":664.6,"v":0.229},{"s":"D","w":668,"v":0.212},{"s":"D","w":671.4,"v":0.2},{"s":"D","w":675,"v":0.18},{"s":"D","w":679.7,"v":0.161},{"s":"D","w":683,"v":0.14},{"s":"D","w":686.5,"v":0.12},{"s":"D","w":691,"v":0.098},{"s":"D","w":696,"v":0.075},{"s":"D","w":702,"v":0.055},{"s":"D","w":708.5,"v":0.04},{"s":"D","w":714,"v":0.03},{"s":"D","w":719.5,"v":0.023},{"s":"D","w":727.7,"v":0.017},{"s":"D","w":733,"v":0.011},{"s":"D","w":738.7,"v":0.006},{"s":"D","w":745,"v":0.005},{"s":"D","w":750,"v":0.004},
{"s":"C","w":510,"v":0.011},{"s":"C","w":519,"v":0.011},{"s":"C","w":525,"v":0.018},{"s":"C","w":530,"v":0.034},{"s":"C","w":534,"v":0.05},{"s":"C","w":538.7,"v":0.069},{"s":"C","w":542,"v":0.09},{"s":"C","w":546.4,"v":0.12},{"s":"C","w":550,"v":0.16},{"s":"C","w":554.7,"v":0.224},{"s":"C","w":558,"v":0.28},{"s":"C","w":561.5,"v":0.35},{"s":"C","w":565,"v":0.44},{"s":"C","w":569,"v":0.545},{"s":"C","w":573,"v":0.65},{"s":"C","w":576.6,"v":0.74},{"s":"C","w":581,"v":0.82},{"s":"C","w":585,"v":0.889},{"s":"C","w":588,"v":0.93},{"s":"C","w":591.8,"v":0.969},{"s":"C","w":595,"v":0.99},{"s":"C","w":599,"v":1},{"s":"C","w":603,"v":0.965},{"s":"C","w":607,"v":0.923},{"s":"C","w":611,"v":0.87},{"s":"C","w":615,"v":0.809},{"s":"C","w":619,"v":0.76},{"s":"C","w":622,"v":0.717},{"s":"C","w":626,"v":0.68},{"s":"C","w":629,"v":0.654},{"s":"C","w":634,"v":0.579},{"s":"C","w":638,"v":0.535},{"s":"C","w":642.6,"v":0.493},{"s":"C","w":647,"v":0.458},{"s":"C","w":651,"v":0.424},{"s":"C","w":655,"v":0.39},{"s":"C","w":659,"v":0.361},{"s":"C","w":663,"v":0.325},{"s":"C","w":667,"v":0.292},{"s":"C","w":672,"v":0.26},{"s":"C","w":677,"v":0.235},{"s":"C","w":682,"v":0.208},{"s":"C","w":688,"v":0.18},{"s":"C","w":694,"v":0.155},{"s":"C","w":700,"v":0.132},{"s":"C","w":705,"v":0.118},{"s":"C","w":711,"v":0.103},{"s":"C","w":719.5,"v":0.092},{"s":"C","w":726,"v":0.075},{"s":"C","w":733,"v":0.063},{"s":"C","w":741.5,"v":0.052},{"s":"C","w":748,"v":0.046},{"s":"C","w":752.5,"v":0.029},
{"s":"O","w":510,"v":0.052},{"s":"O","w":513,"v":0.075},{"s":"O","w":516,"v":0.092},{"s":"O","w":520,"v":0.105},{"s":"O","w":524.5,"v":0.12},{"s":"O","w":528,"v":0.16},{"s":"O","w":532.7,"v":0.224},{"s":"O","w":535,"v":0.28},{"s":"O","w":538,"v":0.358},{"s":"O","w":541,"v":0.45},{"s":"O","w":543.7,"v":0.545},{"s":"O","w":546,"v":0.64},{"s":"O","w":549,"v":0.728},{"s":"O","w":552,"v":0.8},{"s":"O","w":554.7,"v":0.854},{"s":"O","w":557,"v":0.875},{"s":"O","w":560,"v":0.889},{"s":"O","w":564,"v":0.9},{"s":"O","w":568,"v":0.914},{"s":"O","w":571,"v":0.935},{"s":"O","w":574,"v":0.958},{"s":"O","w":577,"v":0.985},{"s":"O","w":579.4,"v":1},{"s":"O","w":582,"v":0.998},{"s":"O","w":585,"v":0.992},{"s":"O","w":587.5,"v":0.96},{"s":"O","w":590,"v":0.912},{"s":"O","w":592.5,"v":0.86},{"s":"O","w":595,"v":0.808},{"s":"O","w":598,"v":0.745},{"s":"O","w":600,"v":0.7},{"s":"O","w":602.7,"v":0.648},{"s":"O","w":605,"v":0.62},{"s":"O","w":608,"v":0.602},{"s":"O","w":611,"v":0.59},{"s":"O","w":615,"v":0.579},{"s":"O","w":618,"v":0.565},{"s":"O","w":620.6,"v":0.545},{"s":"O","w":624,"v":0.52},{"s":"O","w":628,"v":0.5},{"s":"O","w":631,"v":0.465},{"s":"O","w":634,"v":0.43},{"s":"O","w":638,"v":0.385},{"s":"O","w":642.6,"v":0.338},{"s":"O","w":647,"v":0.3},{"s":"O","w":651,"v":0.27},{"s":"O","w":654,"v":0.248},{"s":"O","w":657.7,"v":0.229},{"s":"O","w":662,"v":0.2},{"s":"O","w":667,"v":0.166},{"s":"O","w":671,"v":0.14},{"s":"O","w":675.5,"v":0.12},{"s":"O","w":681,"v":0.1},{"s":"O","w":687,"v":0.08},{"s":"O","w":693,"v":0.068},{"s":"O","w":700,"v":0.057},{"s":"O","w":705,"v":0.052},{"s":"O","w":711,"v":0.046},{"s":"O","w":717,"v":0.034},{"s":"O","w":722,"v":0.028},{"s":"O","w":727.7,"v":0.023},{"s":"O","w":733,"v":0.017},{"s":"O","w":738.7,"v":0.011},{"s":"O","w":747.5,"v":0.011}
],
"m5":[
{"s":"D","w":530,"v":0.002},{"s":"D","w":560,"v":0.057},{"s":"D","w":591,"v":0.971},{"s":"D","w":620,"v":0.868},{"s":"D","w":650,"v":0.338},{"s":"D","w":679.7,"v":0.161},{"s":"D","w":708.5,"v":0.04},{"s":"D","w":738.7,"v":0.006},
{"s":"C","w":510,"v":0.011},{"s":"C","w":538.7,"v":0.069},{"s":"C","w":569,"v":0.545},{"s":"C","w":599,"v":1},{"s":"C","w":629,"v":0.654},{"s":"C","w":659,"v":0.361},{"s":"C","w":688,"v":0.18},{"s":"C","w":719.5,"v":0.092},{"s":"C","w":748,"v":0.046},
{"s":"O","w":510,"v":0.052},{"s":"O","w":538,"v":0.358},{"s":"O","w":568,"v":0.914},{"s":"O","w":598,"v":0.745},{"s":"O","w":628,"v":0.5},{"s":"O","w":657.7,"v":0.229},{"s":"O","w":687,"v":0.08},{"s":"O","w":717,"v":0.034},{"s":"O","w":747.5,"v":0.011}
],
"l6":[
{"s":"D","w":510,"v":0.02},{"s":"D","w":520.7,"v":0.015},{"s":"D","w":530,"v":0.016},{"s":"D","w":539.6,"v":0.017},{"s":"D","w":552,"v":0.015},{"s":"D","w":560,"v":0.016},{"s":"D","w":569,"v":0.017},{"s":"D","w":575,"v":0.016},{"s":"D","w":580,"v":0.01},{"s":"D","w":585,"v":0},{"s":"D","w":587,"v":0.01},{"s":"D","w":590,"v":0.037},{"s":"D","w":593,"v":0.1},{"s":"D","w":596,"v":0.2},{"s":"D","w":598,"v":0.292},{"s":"D","w":601,"v":0.41},{"s":"D","w":604,"v":0.53},{"s":"D","w":607,"v":0.62},{"s":"D","w":610.4,"v":0.71},{"s":"D","w":613,"v":0.79},{"s":"D","w":616.7,"v":0.89},{"s":"D","w":620,"v":0.96},{"s":"D","w":623,"v":1},{"s":"D","w":626,"v":0.995},{"s":"D","w":629,"v":0.985},{"s":"D","w":632,"v":0.93},{"s":"D","w":635.6,"v":0.868},{"s":"D","w":638,"v":0.81},{"s":"D","w":642,"v":0.755},{"s":"D","w":646,"v":0.71},{"s":"D","w":650,"v":0.671},{"s":"D","w":654,"v":0.65},{"s":"D","w":658.6,"v":0.632},{"s":"D","w":662,"v":0.61},{"s":"D","w":665.5,"v":0.587},{"s":"D","w":670,"v":0.555},{"s":"D","w":675,"v":0.52},{"s":"D","w":679,"v":0.47},{"s":"D","w":683,"v":0.419},{"s":"D","w":686,"v":0.39},{"s":"D","w":689,"v":0.374},{"s":"D","w":693,"v":0.36},{"s":"D","w":697,"v":0.34},{"s":"D","w":702,"v":0.31},{"s":"D","w":706.4,"v":0.284},{"s":"D","w":712,"v":0.26},{"s":"D","w":719,"v":0.239},{"s":"D","w":724,"v":0.2},{"s":"D","w":728.5,"v":0.16},{"s":"D","w":733,"v":0.135},{"s":"D","w":738,"v":0.116},{"s":"D","w":744,"v":0.09},{"s":"D","w":749,"v":0.071},{"s":"D","w":753,"v":0.05},{"s":"D","w":757,"v":0.037},{"s":"D","w":761,"v":0.025},{"s":"D","w":764.7,"v":0.02},{"s":"D","w":772.5,"v":0.015},{"s":"D","w":780,"v":0.012},
{"s":"C","w":510,"v":0.118},{"s":"C","w":515,"v":0.13},{"s":"C","w":520.7,"v":0.149},{"s":"C","w":527,"v":0.19},{"s":"C","w":533,"v":0.24},{"s":"C","w":539.6,"v":0.299},{"s":"C","w":546,"v":0.37},{"s":"C","w":552,"v":0.441},{"s":"C","w":558,"v":0.52},{"s":"C","w":564,"v":0.6},{"s":"C","w":569.5,"v":0.673},{"s":"C","w":574,"v":0.72},{"s":"C","w":577.4,"v":0.755},{"s":"C","w":583,"v":0.82},{"s":"C","w":590,"v":0.89},{"s":"C","w":594,"v":0.94},{"s":"C","w":598.8,"v":0.99},{"s":"C","w":603,"v":1},{"s":"C","w":609,"v":0.998},{"s":"C","w":615,"v":0.992},{"s":"C","w":621.5,"v":0.99},{"s":"C","w":629,"v":0.969},{"s":"C","w":633,"v":0.92},{"s":"C","w":637,"v":0.879},{"s":"C","w":641,"v":0.835},{"s":"C","w":646.6,"v":0.789},{"s":"C","w":652,"v":0.755},{"s":"C","w":658.6,"v":0.716},{"s":"C","w":665,"v":0.67},{"s":"C","w":672,"v":0.62},{"s":"C","w":680,"v":0.585},{"s":"C","w":689,"v":0.55},{"s":"C","w":696,"v":0.51},{"s":"C","w":703,"v":0.475},{"s":"C","w":710,"v":0.445},{"s":"C","w":718.4,"v":0.419},{"s":"C","w":725,"v":0.37},{"s":"C","w":731.6,"v":0.329},{"s":"C","w":740,"v":0.28},{"s":"C","w":749,"v":0.233},{"s":"C","w":755,"v":0.205},{"s":"C","w":760,"v":0.183},{"s":"C","w":764,"v":0.14},{"s":"C","w":768,"v":0.093},{"s":"C","w":773,"v":0.065},{"s":"C","w":778.8,"v":0.043},{"s":"C","w":785,"v":0.031},
{"s":"O","w":510,"v":0.009},{"s":"O","w":515,"v":0.004},{"s":"O","w":520.7,"v":0},{"s":"O","w":533,"v":0},{"s":"O","w":540,"v":0.009},{"s":"O","w":546,"v":0.05},{"s":"O","w":552,"v":0.104},{"s":"O","w":556,"v":0.15},{"s":"O","w":561.6,"v":0.217},{"s":"O","w":566,"v":0.28},{"s":"O","w":569.5,"v":0.34},{"s":"O","w":572,"v":0.41},{"s":"O","w":575,"v":0.5},{"s":"O","w":577.4,"v":0.553},{"s":"O","w":580,"v":0.65},{"s":"O","w":583.7,"v":0.778},{"s":"O","w":587,"v":0.87},{"s":"O","w":591.5,"v":0.946},{"s":"O","w":596,"v":0.97},{"s":"O","w":600,"v":0.982},{"s":"O","w":603,"v":0.995},{"s":"O","w":607,"v":1},{"s":"O","w":611,"v":0.98},{"s":"O","w":615,"v":0.946},{"s":"O","w":619,"v":0.89},{"s":"O","w":623,"v":0.823},{"s":"O","w":627,"v":0.755},{"s":"O","w":630,"v":0.696},{"s":"O","w":635,"v":0.62},{"s":"O","w":640,"v":0.542},{"s":"O","w":645,"v":0.47},{"s":"O","w":649.8,"v":0.396},{"s":"O","w":654,"v":0.33},{"s":"O","w":659,"v":0.25},{"s":"O","w":663,"v":0.21},{"s":"O","w":668.7,"v":0.183},{"s":"O","w":673,"v":0.168},{"s":"O","w":678,"v":0.16},{"s":"O","w":684,"v":0.148},{"s":"O","w":690,"v":0.13},{"s":"O","w":695,"v":0.112},{"s":"O","w":700,"v":0.093},{"s":"O","w":705,"v":0.075},{"s":"O","w":709.6,"v":0.059},{"s":"O","w":714,"v":0.043},{"s":"O","w":719.7,"v":0.028},{"s":"O","w":725,"v":0.018},{"s":"O","w":734.8,"v":0.009},{"s":"O","w":750.5,"v":0.009},{"s":"O","w":765,"v":0.009},{"s":"O","w":780,"v":0.009}
],
"m6":[
{"s":"D","w":510,"v":0.02},{"s":"D","w":539.6,"v":0.017},{"s":"D","w":569,"v":0.017},{"s":"D","w":598,"v":0.292},{"s":"D","w":629,"v":0.985},{"s":"D","w":658.6,"v":0.632},{"s":"D","w":689,"v":0.374},{"s":"D","w":719,"v":0.239},{"s":"D","w":749,"v":0.071},
{"s":"C","w":510,"v":0.118},{"s":"C","w":539.6,"v":0.299},{"s":"C","w":569.5,"v":0.673},{"s":"C","w":598.8,"v":0.99},{"s":"C","w":629,"v":0.969},{"s":"C","w":658.6,"v":0.716},{"s":"C","w":689,"v":0.55},{"s":"C","w":718.4,"v":0.419},{"s":"C","w":749,"v":0.233},{"s":"C","w":778.8,"v":0.043},
{"s":"O","w":510,"v":0.009},{"s":"O","w":540,"v":0.009},{"s":"O","w":569.5,"v":0.34},{"s":"O","w":600,"v":0.982},{"s":"O","w":630,"v":0.696},{"s":"O","w":659,"v":0.25},{"s":"O","w":690,"v":0.13},{"s":"O","w":719.7,"v":0.028},{"s":"O","w":750.5,"v":0.009},{"s":"O","w":780,"v":0.009}
]
},
"concat":[
{"width":414,"height":304,"layer":[
{"data":{"values":[{}]},"layer":[
{"data":{"name":"cieT"},"mark":{"type":"area","opacity":1,"strokeWidth":0.8},"encoding":{"x":{"field":"cx","type":"quantitative","scale":{"domain":[-1.3901,0.745],"nice":false,"zero":false},"axis":null},"y":{"field":"y","type":"quantitative","scale":{"domain":[-0.0482,1.7275],"nice":false,"zero":false},"axis":null},"y2":{"field":"y2"},"fill":{"field":"t","type":"nominal","scale":{"domain":["T0","T1","T2","T3","T4","T5","T6","T7","T8","T9","T10","T11","T12","T13","T14","T15","T16","T17","T18","T19","T20","T21","T22","T23"],"range":["#ff1a1a","#ff5000","#ff8800","#ffbb00","#ffee00","#e8ff00","#b8ff00","#80ff00","#40ff00","#10f000","#00f020","#00f850","#00ff80","#00ffb8","#00ffe8","#00e8ff","#00a8ff","#0070ff","#0030ff","#2800ff","#6000ff","#c000ff","#ff00c8","#ff0060"]},"legend":null},"stroke":{"field":"t","type":"nominal","scale":{"domain":["T0","T1","T2","T3","T4","T5","T6","T7","T8","T9","T10","T11","T12","T13","T14","T15","T16","T17","T18","T19","T20","T21","T22","T23"],"range":["#ff1a1a","#ff5000","#ff8800","#ffbb00","#ffee00","#e8ff00","#b8ff00","#80ff00","#40ff00","#10f000","#00f020","#00f850","#00ff80","#00ffb8","#00ffe8","#00e8ff","#00a8ff","#0070ff","#0030ff","#2800ff","#6000ff","#c000ff","#ff00c8","#ff0060"]},"legend":null}}},
{"data":{"name":"cieH"},"mark":{"type":"area","opacity":1,"fill":{"gradient":"radial","x1":0.46,"y1":0.57,"r1":0,"x2":0.46,"y2":0.57,"r2":0.45,"stops":[{"offset":0,"color":"rgba(255,255,255,0.92)"},{"offset":0.3,"color":"rgba(255,255,255,0.45)"},{"offset":0.6,"color":"rgba(255,255,255,0.12)"},{"offset":1,"color":"rgba(255,255,255,0)"}]}},"encoding":{"x":{"field":"cx","type":"quantitative","axis":null},"y":{"field":"top","type":"quantitative","axis":null},"y2":{"field":"bot"}}},
{"mark":{"type":"point","shape":"circle","filled":true,"color":"#00ff00","size":45,"opacity":1},"encoding":{"x":{"datum":0.15,"axis":null},"y":{"datum":0.065,"axis":null}}},
{"mark":{"type":"point","shape":"square","filled":true,"color":"#ff0000","size":45,"opacity":1},"encoding":{"x":{"datum":0.169,"axis":null},"y":{"datum":0.1195,"axis":null}}}
]},
{"data":{"values":[{}]},"layer":[
{"data":{"name":"l1"},"transform":[{"filter":"datum.s=='D'"}],"mark":{"type":"line","color":"#ff0000","strokeWidth":3.5,"interpolate":"monotone","clip":true},"encoding":{"x":{"field":"w","type":"quantitative","scale":{"domain":[325,800],"nice":false,"zero":false},"axis":{"values":[350,400,450,500,550,600,650,700,750,800],"format":"d","title":"Wavelength/nm","tickSize":5}},"y":{"field":"v","type":"quantitative","scale":{"domain":[-0.025,1.05],"nice":false,"zero":false},"axis":{"values":[0,0.2,0.4,0.6,0.8,1],"format":".1f","title":"Normalized Intensity","tickSize":5}}}},
{"data":{"name":"l1"},"transform":[{"filter":"datum.s=='C'"}],"mark":{"type":"line","color":"#0000ff","strokeWidth":3.5,"interpolate":"monotone","clip":true},"encoding":{"x":{"field":"w","type":"quantitative","axis":null},"y":{"field":"v","type":"quantitative","axis":null}}},
{"data":{"name":"l1"},"transform":[{"filter":"datum.s=='O'"}],"mark":{"type":"line","color":"#00ff00","strokeWidth":3.5,"interpolate":"monotone","clip":true},"encoding":{"x":{"field":"w","type":"quantitative","axis":null},"y":{"field":"v","type":"quantitative","axis":null}}},
{"data":{"name":"m1"},"transform":[{"filter":"datum.s=='D'"}],"mark":{"type":"point","shape":"square","filled":true,"color":"#ff0000","size":130,"opacity":1,"clip":true},"encoding":{"x":{"field":"w","type":"quantitative","axis":{"values":[375,425,475,525,575,625,675,725,775],"labels":false,"title":null,"tickSize":3}},"y":{"field":"v","type":"quantitative","axis":{"values":[0.1,0.3,0.5,0.7,0.9],"labels":false,"title":null,"tickSize":3}}}},
{"data":{"name":"m1"},"transform":[{"filter":"datum.s=='C'"}],"mark":{"type":"point","shape":"circle","filled":true,"color":"#0000ff","size":130,"opacity":1,"clip":true},"encoding":{"x":{"field":"w","type":"quantitative","axis":null},"y":{"field":"v","type":"quantitative","axis":null}}},
{"data":{"name":"m1"},"transform":[{"filter":"datum.s=='O'"}],"mark":{"type":"point","shape":"triangle-up","filled":true,"color":"#00ff00","size":130,"opacity":1,"clip":true},"encoding":{"x":{"field":"w","type":"quantitative","axis":null},"y":{"field":"v","type":"quantitative","axis":null}}},
{"mark":{"type":"text","text":"298 K","align":"left","baseline":"middle","fontSize":21,"fontWeight":"bold","font":"Liberation Serif","color":"black"},"encoding":{"x":{"datum":331,"axis":{"orient":"top","values":[350,375,400,425,450,475,500,525,550,575,600,625,650,675,700,725,750,775,800],"labels":false,"title":null,"tickSize":3}},"y":{"datum":0.93,"axis":{"orient":"right","values":[0,0.1,0.2,0.3,0.4,0.5,0.6,0.7,0.8,0.9,1],"labels":false,"title":null,"tickSize":3}}}},
{"mark":{"type":"rule","color":"#ff0000","strokeWidth":3.5},"encoding":{"x":{"datum":565.9,"axis":null},"x2":{"datum":606.1},"y":{"datum":0.9368,"axis":null}}},
{"mark":{"type":"rule","color":"#0000ff","strokeWidth":3.5},"encoding":{"x":{"datum":565.9,"axis":null},"x2":{"datum":606.1},"y":{"datum":0.8414,"axis":null}}},
{"mark":{"type":"rule","color":"#00ff00","strokeWidth":3.5},"encoding":{"x":{"datum":565.9,"axis":null},"x2":{"datum":606.1},"y":{"datum":0.7388,"axis":null}}},
{"mark":{"type":"point","shape":"square","filled":true,"color":"#ff0000","size":130,"opacity":1},"encoding":{"x":{"datum":586,"axis":null},"y":{"datum":0.9368,"axis":null}}},
{"mark":{"type":"point","shape":"circle","filled":true,"color":"#0000ff","size":130,"opacity":1},"encoding":{"x":{"datum":586,"axis":null},"y":{"datum":0.8414,"axis":null}}},
{"mark":{"type":"point","shape":"triangle-up","filled":true,"color":"#00ff00","size":130,"opacity":1},"encoding":{"x":{"datum":586,"axis":null},"y":{"datum":0.7388,"axis":null}}},
{"mark":{"type":"text","text":"Ag1 in DMSO","align":"left","baseline":"middle","fontSize":21,"fontWeight":"bold","font":"Liberation Serif","color":"black"},"encoding":{"x":{"datum":610.7,"axis":null},"y":{"datum":0.9368,"axis":null}}},
{"mark":{"type":"text","text":"Ag1 in CH₃CN","align":"left","baseline":"middle","fontSize":21,"fontWeight":"bold","font":"Liberation Serif","color":"black"},"encoding":{"x":{"datum":610.7,"axis":null},"y":{"datum":0.8414,"axis":null}}},
{"mark":{"type":"text","text":"Ag1 in CH₃OH","align":"left","baseline":"middle","fontSize":21,"fontWeight":"bold","font":"Liberation Serif","color":"black"},"encoding":{"x":{"datum":610.7,"axis":null},"y":{"datum":0.7388,"axis":null}}}
],"resolve":{"axis":{"x":"independent","y":"independent"}}}
],"resolve":{"scale":{"x":"independent","y":"independent"}}},
{"width":414,"height":304,"layer":[
{"data":{"values":[{}]},"layer":[
{"data":{"name":"cieT"},"mark":{"type":"area","opacity":1,"strokeWidth":0.8},"encoding":{"x":{"field":"cx","type":"quantitative","scale":{"domain":[-1.2836,0.7203],"nice":false,"zero":false},"axis":null},"y":{"field":"y","type":"quantitative","scale":{"domain":[-0.0663,1.6022],"nice":false,"zero":false},"axis":null},"y2":{"field":"y2"},"fill":{"field":"t","type":"nominal","scale":{"domain":["T0","T1","T2","T3","T4","T5","T6","T7","T8","T9","T10","T11","T12","T13","T14","T15","T16","T17","T18","T19","T20","T21","T22","T23"],"range":["#ff1a1a","#ff5000","#ff8800","#ffbb00","#ffee00","#e8ff00","#b8ff00","#80ff00","#40ff00","#10f000","#00f020","#00f850","#00ff80","#00ffb8","#00ffe8","#00e8ff","#00a8ff","#0070ff","#0030ff","#2800ff","#6000ff","#c000ff","#ff00c8","#ff0060"]},"legend":null},"stroke":{"field":"t","type":"nominal","scale":{"domain":["T0","T1","T2","T3","T4","T5","T6","T7","T8","T9","T10","T11","T12","T13","T14","T15","T16","T17","T18","T19","T20","T21","T22","T23"],"range":["#ff1a1a","#ff5000","#ff8800","#ffbb00","#ffee00","#e8ff00","#b8ff00","#80ff00","#40ff00","#10f000","#00f020","#00f850","#00ff80","#00ffb8","#00ffe8","#00e8ff","#00a8ff","#0070ff","#0030ff","#2800ff","#6000ff","#c000ff","#ff00c8","#ff0060"]},"legend":null}}},
{"data":{"name":"cieH"},"mark":{"type":"area","opacity":1,"fill":{"gradient":"radial","x1":0.46,"y1":0.57,"r1":0,"x2":0.46,"y2":0.57,"r2":0.45,"stops":[{"offset":0,"color":"rgba(255,255,255,0.92)"},{"offset":0.3,"color":"rgba(255,255,255,0.45)"},{"offset":0.6,"color":"rgba(255,255,255,0.12)"},{"offset":1,"color":"rgba(255,255,255,0)"}]}},"encoding":{"x":{"field":"cx","type":"quantitative","axis":null},"y":{"field":"top","type":"quantitative","axis":null},"y2":{"field":"bot"}}},
{"mark":{"type":"point","shape":"square","filled":false,"fill":"white","color":"#000000","strokeWidth":1.2,"size":40,"opacity":1},"encoding":{"x":{"datum":0.178,"axis":null},"y":{"datum":0.226,"axis":null}}},
{"mark":{"type":"point","shape":"triangle-up","filled":false,"color":"#ff1080","strokeWidth":1.2,"size":40,"opacity":1},"encoding":{"x":{"datum":0.15,"axis":null},"y":{"datum":0.153,"axis":null}}},
{"mark":{"type":"point","shape":"circle","filled":false,"color":"#ffff00","strokeWidth":1.2,"size":40,"opacity":1},"encoding":{"x":{"datum":0.155,"axis":null},"y":{"datum":0.153,"axis":null}}}
]},
{"data":{"values":[{}]},"layer":[
{"data":{"name":"l2"},"transform":[{"filter":"datum.s=='D'"}],"mark":{"type":"line","color":"#000000","strokeWidth":3.5,"interpolate":"monotone","clip":true},"encoding":{"x":{"field":"w","type":"quantitative","scale":{"domain":[322,800],"nice":false,"zero":false},"axis":{"values":[350,400,450,500,550,600,650,700,750,800],"format":"d","title":"Wavelength/nm","tickSize":5}},"y":{"field":"v","type":"quantitative","scale":{"domain":[0,1.05],"nice":false,"zero":false},"axis":{"values":[0,0.2,0.4,0.6,0.8,1],"format":".1f","title":"Normalized Intensity","tickSize":5}}}},
{"data":{"name":"l2"},"transform":[{"filter":"datum.s=='C'"}],"mark":{"type":"line","color":"#ff1080","strokeWidth":3.5,"interpolate":"monotone","clip":true},"encoding":{"x":{"field":"w","type":"quantitative","axis":null},"y":{"field":"v","type":"quantitative","axis":null}}},
{"data":{"name":"l2"},"transform":[{"filter":"datum.s=='O'"}],"mark":{"type":"line","color":"#ffff00","strokeWidth":3.5,"interpolate":"monotone","clip":true},"encoding":{"x":{"field":"w","type":"quantitative","axis":null},"y":{"field":"v","type":"quantitative","axis":null}}},
{"data":{"name":"m2"},"transform":[{"filter":"datum.s=='D'"}],"mark":{"type":"point","shape":"square","filled":false,"fill":"white","color":"#000000","strokeWidth":1.5,"size":150,"opacity":1,"clip":true},"encoding":{"x":{"field":"w","type":"quantitative","axis":{"values":[375,425,475,525,575,625,675,725,775],"labels":false,"title":null,"tickSize":3}},"y":{"field":"v","type":"quantitative","axis":{"values":[0.1,0.3,0.5,0.7,0.9],"labels":false,"title":null,"tickSize":3}}}},
{"data":{"name":"m2"},"transform":[{"filter":"datum.s=='C'"}],"mark":{"type":"point","shape":"circle","filled":false,"fill":"white","color":"#ff1080","strokeWidth":1.5,"size":150,"opacity":1,"clip":true},"encoding":{"x":{"field":"w","type":"quantitative","axis":null},"y":{"field":"v","type":"quantitative","axis":null}}},
{"data":{"name":"m2"},"transform":[{"filter":"datum.s=='O'"}],"mark":{"type":"point","shape":"triangle-up","filled":false,"fill":"white","color":"#ffff00","strokeWidth":1.5,"size":150,"opacity":1,"clip":true},"encoding":{"x":{"field":"w","type":"quantitative","axis":null},"y":{"field":"v","type":"quantitative","axis":null}}},
{"mark":{"type":"text","text":"77 K","align":"left","baseline":"middle","fontSize":21,"fontWeight":"bold","font":"Liberation Serif","color":"black"},"encoding":{"x":{"datum":338,"axis":{"orient":"top","values":[325,350,375,400,425,450,475,500,525,550,575,600,625,650,675,700,725,750,775,800],"labels":false,"title":null,"tickSize":3}},"y":{"datum":0.957,"axis":{"orient":"right","values":[0,0.1,0.2,0.3,0.4,0.5,0.6,0.7,0.8,0.9,1],"labels":false,"title":null,"tickSize":3}}}},
{"mark":{"type":"rule","color":"#000000","strokeWidth":3.5},"encoding":{"x":{"datum":573.7,"axis":null},"x2":{"datum":613},"y":{"datum":0.967,"axis":null}}},
{"mark":{"type":"rule","color":"#ff1080","strokeWidth":3.5},"encoding":{"x":{"datum":573.7,"axis":null},"x2":{"datum":613},"y":{"datum":0.8704,"axis":null}}},
{"mark":{"type":"rule","color":"#ffff00","strokeWidth":3.5},"encoding":{"x":{"datum":573.7,"axis":null},"x2":{"datum":613},"y":{"datum":0.7633,"axis":null}}},
{"mark":{"type":"point","shape":"square","filled":false,"fill":"white","color":"#000000","strokeWidth":1.5,"size":150,"opacity":1},"encoding":{"x":{"datum":593.3,"axis":null},"y":{"datum":0.967,"axis":null}}},
{"mark":{"type":"point","shape":"circle","filled":false,"fill":"white","color":"#ff1080","strokeWidth":1.5,"size":150,"opacity":1},"encoding":{"x":{"datum":593.3,"axis":null},"y":{"datum":0.8704,"axis":null}}},
{"mark":{"type":"point","shape":"triangle-up","filled":false,"fill":"white","color":"#ffff00","strokeWidth":1.5,"size":150,"opacity":1},"encoding":{"x":{"datum":593.3,"axis":null},"y":{"datum":0.7633,"axis":null}}},
{"mark":{"type":"text","text":"Ag1 in DMSO","align":"left","baseline":"middle","fontSize":21,"fontWeight":"bold","font":"Liberation Serif","color":"black"},"encoding":{"x":{"datum":629.1,"axis":null},"y":{"datum":0.967,"axis":null}}},
{"mark":{"type":"text","text":"Ag1 in CH₃CN","align":"left","baseline":"middle","fontSize":21,"fontWeight":"bold","font":"Liberation Serif","color":"black"},"encoding":{"x":{"datum":629.1,"axis":null},"y":{"datum":0.8704,"axis":null}}},
{"mark":{"type":"text","text":"Ag1 in CH₃OH","align":"left","baseline":"middle","fontSize":21,"fontWeight":"bold","font":"Liberation Serif","color":"black"},"encoding":{"x":{"datum":629.1,"axis":null},"y":{"datum":0.7633,"axis":null}}}
],"resolve":{"axis":{"x":"independent","y":"independent"}}}
],"resolve":{"scale":{"x":"independent","y":"independent"}}},
{"width":414,"height":304,"layer":[
{"data":{"values":[{}]},"layer":[
{"data":{"name":"cieT"},"mark":{"type":"area","opacity":1,"strokeWidth":0.8},"encoding":{"x":{"field":"cx","type":"quantitative","scale":{"domain":[-1.2597,0.6922],"nice":false,"zero":false},"axis":null},"y":{"field":"y","type":"quantitative","scale":{"domain":[-0.1062,1.5846],"nice":false,"zero":false},"axis":null},"y2":{"field":"y2"},"fill":{"field":"t","type":"nominal","scale":{"domain":["T0","T1","T2","T3","T4","T5","T6","T7","T8","T9","T10","T11","T12","T13","T14","T15","T16","T17","T18","T19","T20","T21","T22","T23"],"range":["#ff1a1a","#ff5000","#ff8800","#ffbb00","#ffee00","#e8ff00","#b8ff00","#80ff00","#40ff00","#10f000","#00f020","#00f850","#00ff80","#00ffb8","#00ffe8","#00e8ff","#00a8ff","#0070ff","#0030ff","#2800ff","#6000ff","#c000ff","#ff00c8","#ff0060"]},"legend":null},"stroke":{"field":"t","type":"nominal","scale":{"domain":["T0","T1","T2","T3","T4","T5","T6","T7","T8","T9","T10","T11","T12","T13","T14","T15","T16","T17","T18","T19","T20","T21","T22","T23"],"range":["#ff1a1a","#ff5000","#ff8800","#ffbb00","#ffee00","#e8ff00","#b8ff00","#80ff00","#40ff00","#10f000","#00f020","#00f850","#00ff80","#00ffb8","#00ffe8","#00e8ff","#00a8ff","#0070ff","#0030ff","#2800ff","#6000ff","#c000ff","#ff00c8","#ff0060"]},"legend":null}}},
{"data":{"name":"cieH"},"mark":{"type":"area","opacity":1,"fill":{"gradient":"radial","x1":0.46,"y1":0.57,"r1":0,"x2":0.46,"y2":0.57,"r2":0.45,"stops":[{"offset":0,"color":"rgba(255,255,255,0.92)"},{"offset":0.3,"color":"rgba(255,255,255,0.45)"},{"offset":0.6,"color":"rgba(255,255,255,0.12)"},{"offset":1,"color":"rgba(255,255,255,0)"}]}},"encoding":{"x":{"field":"cx","type":"quantitative","axis":null},"y":{"field":"top","type":"quantitative","axis":null},"y2":{"field":"bot"}}},
{"mark":{"type":"point","shape":"circle","filled":true,"color":"#00ff00","size":45,"opacity":1},"encoding":{"x":{"datum":0.183,"axis":null},"y":{"datum":0.155,"axis":null}}},
{"mark":{"type":"point","shape":"square","filled":true,"color":"#ff0000","size":45,"opacity":1},"encoding":{"x":{"datum":0.23,"axis":null},"y":{"datum":0.127,"axis":null}}},
{"mark":{"type":"point","shape":"triangle-up","filled":true,"color":"#000080","size":45,"opacity":1},"encoding":{"x":{"datum":0.172,"axis":null},"y":{"datum":0.044,"axis":null}}}
]},
{"data":{"values":[{}]},"layer":[
{"data":{"name":"l3"},"transform":[{"filter":"datum.s=='D'"}],"mark":{"type":"line","color":"#ff0000","strokeWidth":3.5,"interpolate":"monotone","clip":true},"encoding":{"x":{"field":"w","type":"quantitative","scale":{"domain":[325,800],"nice":false,"zero":false},"axis":{"values":[350,400,450,500,550,600,650,700,750,800],"format":"d","title":"Wavelength/nm","tickSize":5}},"y":{"field":"v","type":"quantitative","scale":{"domain":[-0.025,1.05],"nice":false,"zero":false},"axis":{"values":[0,0.2,0.4,0.6,0.8,1],"format":".1f","title":"Normalized Intensity","tickSize":5}}}},
{"data":{"name":"l3"},"transform":[{"filter":"datum.s=='C'"}],"mark":{"type":"line","color":"#0000ff","strokeWidth":3.5,"interpolate":"monotone","clip":true},"encoding":{"x":{"field":"w","type":"quantitative","axis":null},"y":{"field":"v","type":"quantitative","axis":null}}},
{"data":{"name":"l3"},"transform":[{"filter":"datum.s=='O'"}],"mark":{"type":"line","color":"#00ff00","strokeWidth":3.5,"interpolate":"monotone","clip":true},"encoding":{"x":{"field":"w","type":"quantitative","axis":null},"y":{"field":"v","type":"quantitative","axis":null}}},
{"data":{"name":"m3"},"transform":[{"filter":"datum.s=='D'"}],"mark":{"type":"point","shape":"square","filled":true,"color":"#ff0000","size":130,"opacity":1,"clip":true},"encoding":{"x":{"field":"w","type":"quantitative","axis":{"values":[375,425,475,525,575,625,675,725,775],"labels":false,"title":null,"tickSize":3}},"y":{"field":"v","type":"quantitative","axis":{"values":[0.1,0.3,0.5,0.7,0.9],"labels":false,"title":null,"tickSize":3}}}},
{"data":{"name":"m3"},"transform":[{"filter":"datum.s=='C'"}],"mark":{"type":"point","shape":"circle","filled":true,"color":"#0000ff","size":130,"opacity":1,"clip":true},"encoding":{"x":{"field":"w","type":"quantitative","axis":null},"y":{"field":"v","type":"quantitative","axis":null}}},
{"data":{"name":"m3"},"transform":[{"filter":"datum.s=='O'"}],"mark":{"type":"point","shape":"triangle-up","filled":true,"color":"#00ff00","size":130,"opacity":1,"clip":true},"encoding":{"x":{"field":"w","type":"quantitative","axis":null},"y":{"field":"v","type":"quantitative","axis":null}}},
{"mark":{"type":"text","text":"298 K","align":"left","baseline":"middle","fontSize":21,"fontWeight":"bold","font":"Liberation Serif","color":"black"},"encoding":{"x":{"datum":333,"axis":{"orient":"top","values":[350,375,400,425,450,475,500,525,550,575,600,625,650,675,700,725,750,775,800],"labels":false,"title":null,"tickSize":3}},"y":{"datum":0.943,"axis":{"orient":"right","values":[0,0.1,0.2,0.3,0.4,0.5,0.6,0.7,0.8,0.9,1],"labels":false,"title":null,"tickSize":3}}}},
{"mark":{"type":"rule","color":"#ff0000","strokeWidth":3.5},"encoding":{"x":{"datum":576.3,"axis":null},"x2":{"datum":616.4},"y":{"datum":0.9616,"axis":null}}},
{"mark":{"type":"rule","color":"#0000ff","strokeWidth":3.5},"encoding":{"x":{"datum":576.3,"axis":null},"x2":{"datum":616.4},"y":{"datum":0.8697,"axis":null}}},
{"mark":{"type":"rule","color":"#00ff00","strokeWidth":3.5},"encoding":{"x":{"datum":576.3,"axis":null},"x2":{"datum":616.4},"y":{"datum":0.7636,"axis":null}}},
{"mark":{"type":"point","shape":"square","filled":true,"color":"#ff0000","size":130,"opacity":1},"encoding":{"x":{"datum":596.3,"axis":null},"y":{"datum":0.9616,"axis":null}}},
{"mark":{"type":"point","shape":"circle","filled":true,"color":"#0000ff","size":130,"opacity":1},"encoding":{"x":{"datum":596.3,"axis":null},"y":{"datum":0.8697,"axis":null}}},
{"mark":{"type":"point","shape":"triangle-up","filled":true,"color":"#00ff00","size":130,"opacity":1},"encoding":{"x":{"datum":596.3,"axis":null},"y":{"datum":0.7636,"axis":null}}},
{"mark":{"type":"text","text":"Ag2 in DMSO","align":"left","baseline":"middle","fontSize":21,"fontWeight":"bold","font":"Liberation Serif","color":"black"},"encoding":{"x":{"datum":622.2,"axis":null},"y":{"datum":0.9616,"axis":null}}},
{"mark":{"type":"text","text":"Ag2 in CH₃CN","align":"left","baseline":"middle","fontSize":21,"fontWeight":"bold","font":"Liberation Serif","color":"black"},"encoding":{"x":{"datum":622.2,"axis":null},"y":{"datum":0.8697,"axis":null}}},
{"mark":{"type":"text","text":"Ag2 in CH₃OH","align":"left","baseline":"middle","fontSize":21,"fontWeight":"bold","font":"Liberation Serif","color":"black"},"encoding":{"x":{"datum":622.2,"axis":null},"y":{"datum":0.7636,"axis":null}}}
],"resolve":{"axis":{"x":"independent","y":"independent"}}}
],"resolve":{"scale":{"x":"independent","y":"independent"}}},
{"width":414,"height":304,"layer":[
{"data":{"values":[{}]},"layer":[
{"data":{"name":"cieT"},"mark":{"type":"area","opacity":1,"strokeWidth":0.8},"encoding":{"x":{"field":"cx","type":"quantitative","scale":{"domain":[-1.2148,0.7162],"nice":false,"zero":false},"axis":null},"y":{"field":"y","type":"quantitative","scale":{"domain":[-0.008,1.6116],"nice":false,"zero":false},"axis":null},"y2":{"field":"y2"},"fill":{"field":"t","type":"nominal","scale":{"domain":["T0","T1","T2","T3","T4","T5","T6","T7","T8","T9","T10","T11","T12","T13","T14","T15","T16","T17","T18","T19","T20","T21","T22","T23"],"range":["#ff1a1a","#ff5000","#ff8800","#ffbb00","#ffee00","#e8ff00","#b8ff00","#80ff00","#40ff00","#10f000","#00f020","#00f850","#00ff80","#00ffb8","#00ffe8","#00e8ff","#00a8ff","#0070ff","#0030ff","#2800ff","#6000ff","#c000ff","#ff00c8","#ff0060"]},"legend":null},"stroke":{"field":"t","type":"nominal","scale":{"domain":["T0","T1","T2","T3","T4","T5","T6","T7","T8","T9","T10","T11","T12","T13","T14","T15","T16","T17","T18","T19","T20","T21","T22","T23"],"range":["#ff1a1a","#ff5000","#ff8800","#ffbb00","#ffee00","#e8ff00","#b8ff00","#80ff00","#40ff00","#10f000","#00f020","#00f850","#00ff80","#00ffb8","#00ffe8","#00e8ff","#00a8ff","#0070ff","#0030ff","#2800ff","#6000ff","#c000ff","#ff00c8","#ff0060"]},"legend":null}}},
{"data":{"name":"cieH"},"mark":{"type":"area","opacity":1,"fill":{"gradient":"radial","x1":0.46,"y1":0.57,"r1":0,"x2":0.46,"y2":0.57,"r2":0.45,"stops":[{"offset":0,"color":"rgba(255,255,255,0.92)"},{"offset":0.3,"color":"rgba(255,255,255,0.45)"},{"offset":0.6,"color":"rgba(255,255,255,0.12)"},{"offset":1,"color":"rgba(255,255,255,0)"}]}},"encoding":{"x":{"field":"cx","type":"quantitative","axis":null},"y":{"field":"top","type":"quantitative","axis":null},"y2":{"field":"bot"}}},
{"mark":{"type":"point","shape":"square","filled":false,"color":"#000000","strokeWidth":1.2,"size":40,"opacity":1},"encoding":{"x":{"datum":0.183,"axis":null},"y":{"datum":0.2547,"axis":null}}},
{"mark":{"type":"point","shape":"triangle-up","filled":false,"color":"#ff1080","strokeWidth":1.2,"size":40,"opacity":1},"encoding":{"x":{"datum":0.144,"axis":null},"y":{"datum":0.2014,"axis":null}}},
{"mark":{"type":"point","shape":"circle","filled":false,"color":"#ffff00","strokeWidth":1.2,"size":40,"opacity":1},"encoding":{"x":{"datum":0.172,"axis":null},"y":{"datum":0.2014,"axis":null}}}
]},
{"data":{"values":[{}]},"layer":[
{"data":{"name":"l4"},"transform":[{"filter":"datum.s=='D'"}],"mark":{"type":"line","color":"#000000","strokeWidth":3.5,"interpolate":"monotone","clip":true},"encoding":{"x":{"field":"w","type":"quantitative","scale":{"domain":[350,800],"nice":false,"zero":false},"axis":{"values":[400,500,600,700,800],"format":"d","title":"Wavelength/nm","tickSize":5}},"y":{"field":"v","type":"quantitative","scale":{"domain":[-0.02,1.05],"nice":false,"zero":false},"axis":{"values":[0,0.2,0.4,0.6,0.8,1],"format":".1f","title":"Normalized Intensity","tickSize":5}}}},
{"data":{"name":"l4"},"transform":[{"filter":"datum.s=='C'"}],"mark":{"type":"line","color":"#ff1080","strokeWidth":3.5,"interpolate":"monotone","clip":true},"encoding":{"x":{"field":"w","type":"quantitative","axis":null},"y":{"field":"v","type":"quantitative","axis":null}}},
{"data":{"name":"l4"},"transform":[{"filter":"datum.s=='O'"}],"mark":{"type":"line","color":"#ffff00","strokeWidth":3.5,"interpolate":"monotone","clip":true},"encoding":{"x":{"field":"w","type":"quantitative","axis":null},"y":{"field":"v","type":"quantitative","axis":null}}},
{"data":{"name":"m4"},"transform":[{"filter":"datum.s=='D'"}],"mark":{"type":"point","shape":"square","filled":false,"fill":"white","color":"#000000","strokeWidth":1.5,"size":150,"opacity":1,"clip":true},"encoding":{"x":{"field":"w","type":"quantitative","axis":{"values":[450,550,650,750],"labels":false,"title":null,"tickSize":3}},"y":{"field":"v","type":"quantitative","axis":{"values":[0.1,0.3,0.5,0.7,0.9],"labels":false,"title":null,"tickSize":3}}}},
{"data":{"name":"m4"},"transform":[{"filter":"datum.s=='C'"}],"mark":{"type":"point","shape":"circle","filled":false,"fill":"white","color":"#ff1080","strokeWidth":1.5,"size":150,"opacity":1,"clip":true},"encoding":{"x":{"field":"w","type":"quantitative","axis":null},"y":{"field":"v","type":"quantitative","axis":null}}},
{"data":{"name":"m4"},"transform":[{"filter":"datum.s=='O'"}],"mark":{"type":"point","shape":"triangle-up","filled":false,"fill":"white","color":"#ffff00","strokeWidth":1.5,"size":150,"opacity":1,"clip":true},"encoding":{"x":{"field":"w","type":"quantitative","axis":null},"y":{"field":"v","type":"quantitative","axis":null}}},
{"mark":{"type":"text","text":"77 K","align":"left","baseline":"middle","fontSize":21,"fontWeight":"bold","font":"Liberation Serif","color":"black"},"encoding":{"x":{"datum":369.6,"axis":{"orient":"top","values":[400,450,500,550,600,650,700,750,800],"labels":false,"title":null,"tickSize":3}},"y":{"datum":0.972,"axis":{"orient":"right","values":[0,0.1,0.2,0.3,0.4,0.5,0.6,0.7,0.8,0.9,1],"labels":false,"title":null,"tickSize":3}}}},
{"mark":{"type":"rule","color":"#000000","strokeWidth":3.5},"encoding":{"x":{"datum":584.8,"axis":null},"x2":{"datum":622.8},"y":{"datum":0.9655,"axis":null}}},
{"mark":{"type":"rule","color":"#ff1080","strokeWidth":3.5},"encoding":{"x":{"datum":584.8,"axis":null},"x2":{"datum":622.8},"y":{"datum":0.874,"axis":null}}},
{"mark":{"type":"rule","color":"#ffff00","strokeWidth":3.5},"encoding":{"x":{"datum":584.8,"axis":null},"x2":{"datum":622.8},"y":{"datum":0.7649,"axis":null}}},
{"mark":{"type":"point","shape":"square","filled":false,"fill":"white","color":"#000000","strokeWidth":1.5,"size":150,"opacity":1},"encoding":{"x":{"datum":603.8,"axis":null},"y":{"datum":0.9655,"axis":null}}},
{"mark":{"type":"point","shape":"circle","filled":false,"fill":"white","color":"#ff1080","strokeWidth":1.5,"size":150,"opacity":1},"encoding":{"x":{"datum":603.8,"axis":null},"y":{"datum":0.874,"axis":null}}},
{"mark":{"type":"point","shape":"triangle-up","filled":false,"fill":"white","color":"#ffff00","strokeWidth":1.5,"size":150,"opacity":1},"encoding":{"x":{"datum":603.8,"axis":null},"y":{"datum":0.7649,"axis":null}}},
{"mark":{"type":"text","text":"Ag2 in DMSO","align":"left","baseline":"middle","fontSize":21,"fontWeight":"bold","font":"Liberation Serif","color":"black"},"encoding":{"x":{"datum":627.2,"axis":null},"y":{"datum":0.9655,"axis":null}}},
{"mark":{"type":"text","text":"Ag2 in CH₃CN","align":"left","baseline":"middle","fontSize":21,"fontWeight":"bold","font":"Liberation Serif","color":"black"},"encoding":{"x":{"datum":627.2,"axis":null},"y":{"datum":0.874,"axis":null}}},
{"mark":{"type":"text","text":"Ag2 in CH₃OH","align":"left","baseline":"middle","fontSize":21,"fontWeight":"bold","font":"Liberation Serif","color":"black"},"encoding":{"x":{"datum":627.2,"axis":null},"y":{"datum":0.7649,"axis":null}}}
],"resolve":{"axis":{"x":"independent","y":"independent"}}}
],"resolve":{"scale":{"x":"independent","y":"independent"}}},
{"width":414,"height":304,"layer":[
{"data":{"values":[{}]},"layer":[
{"data":{"name":"cieT"},"mark":{"type":"area","opacity":1,"strokeWidth":0.8},"encoding":{"x":{"field":"cx","type":"quantitative","scale":{"domain":[-1.3706,0.7161],"nice":false,"zero":false},"axis":null},"y":{"field":"y","type":"quantitative","scale":{"domain":[-0.0815,1.6468],"nice":false,"zero":false},"axis":null},"y2":{"field":"y2"},"fill":{"field":"t","type":"nominal","scale":{"domain":["T0","T1","T2","T3","T4","T5","T6","T7","T8","T9","T10","T11","T12","T13","T14","T15","T16","T17","T18","T19","T20","T21","T22","T23"],"range":["#ff1a1a","#ff5000","#ff8800","#ffbb00","#ffee00","#e8ff00","#b8ff00","#80ff00","#40ff00","#10f000","#00f020","#00f850","#00ff80","#00ffb8","#00ffe8","#00e8ff","#00a8ff","#0070ff","#0030ff","#2800ff","#6000ff","#c000ff","#ff00c8","#ff0060"]},"legend":null},"stroke":{"field":"t","type":"nominal","scale":{"domain":["T0","T1","T2","T3","T4","T5","T6","T7","T8","T9","T10","T11","T12","T13","T14","T15","T16","T17","T18","T19","T20","T21","T22","T23"],"range":["#ff1a1a","#ff5000","#ff8800","#ffbb00","#ffee00","#e8ff00","#b8ff00","#80ff00","#40ff00","#10f000","#00f020","#00f850","#00ff80","#00ffb8","#00ffe8","#00e8ff","#00a8ff","#0070ff","#0030ff","#2800ff","#6000ff","#c000ff","#ff00c8","#ff0060"]},"legend":null}}},
{"data":{"name":"cieH"},"mark":{"type":"area","opacity":1,"fill":{"gradient":"radial","x1":0.46,"y1":0.57,"r1":0,"x2":0.46,"y2":0.57,"r2":0.45,"stops":[{"offset":0,"color":"rgba(255,255,255,0.92)"},{"offset":0.3,"color":"rgba(255,255,255,0.45)"},{"offset":0.6,"color":"rgba(255,255,255,0.12)"},{"offset":1,"color":"rgba(255,255,255,0)"}]}},"encoding":{"x":{"field":"cx","type":"quantitative","axis":null},"y":{"field":"top","type":"quantitative","axis":null},"y2":{"field":"bot"}}},
{"mark":{"type":"point","shape":"circle","filled":true,"color":"#00ff00","size":50,"opacity":1},"encoding":{"x":{"datum":0.504,"axis":null},"y":{"datum":0.4887,"axis":null}}},
{"mark":{"type":"point","shape":"triangle-up","filled":true,"color":"#0000ff","size":50,"opacity":1},"encoding":{"x":{"datum":0.58,"axis":null},"y":{"datum":0.4114,"axis":null}}},
{"mark":{"type":"point","shape":"square","filled":true,"color":"#ff0000","size":50,"opacity":1},"encoding":{"x":{"datum":0.617,"axis":null},"y":{"datum":0.3943,"axis":null}}}
]},
{"data":{"values":[{}]},"layer":[
{"data":{"name":"l5"},"transform":[{"filter":"datum.s=='D'"}],"mark":{"type":"line","color":"#ff0000","strokeWidth":3.5,"interpolate":"monotone","clip":true},"encoding":{"x":{"field":"w","type":"quantitative","scale":{"domain":[510,850],"nice":false,"zero":false},"axis":{"values":[550,600,650,700,750,800,850],"format":"d","title":"Wavelength/nm","tickSize":5}},"y":{"field":"v","type":"quantitative","scale":{"domain":[-0.02,1.025],"nice":false,"zero":false},"axis":{"values":[0,0.2,0.4,0.6,0.8,1],"format":".1f","title":"Normalized Intensity","tickSize":5}}}},
{"data":{"name":"l5"},"transform":[{"filter":"datum.s=='C'"}],"mark":{"type":"line","color":"#0000ff","strokeWidth":3.5,"interpolate":"monotone","clip":true},"encoding":{"x":{"field":"w","type":"quantitative","axis":null},"y":{"field":"v","type":"quantitative","axis":null}}},
{"data":{"name":"l5"},"transform":[{"filter":"datum.s=='O'"}],"mark":{"type":"line","color":"#00ff00","strokeWidth":3.5,"interpolate":"monotone","clip":true},"encoding":{"x":{"field":"w","type":"quantitative","axis":null},"y":{"field":"v","type":"quantitative","axis":null}}},
{"data":{"name":"m5"},"transform":[{"filter":"datum.s=='D'"}],"mark":{"type":"point","shape":"square","filled":true,"color":"#ff0000","size":130,"opacity":1,"clip":true},"encoding":{"x":{"field":"w","type":"quantitative","axis":{"values":[525,575,625,675,725,775,825],"labels":false,"title":null,"tickSize":3}},"y":{"field":"v","type":"quantitative","axis":{"values":[0.1,0.3,0.5,0.7,0.9],"labels":false,"title":null,"tickSize":3}}}},
{"data":{"name":"m5"},"transform":[{"filter":"datum.s=='C'"}],"mark":{"type":"point","shape":"triangle-up","filled":true,"color":"#0000ff","size":130,"opacity":1,"clip":true},"encoding":{"x":{"field":"w","type":"quantitative","axis":null},"y":{"field":"v","type":"quantitative","axis":null}}},
{"data":{"name":"m5"},"transform":[{"filter":"datum.s=='O'"}],"mark":{"type":"point","shape":"circle","filled":true,"color":"#00ff00","size":130,"opacity":1,"clip":true},"encoding":{"x":{"field":"w","type":"quantitative","axis":null},"y":{"field":"v","type":"quantitative","axis":null}}},
{"mark":{"type":"text","text":"298 K","align":"left","baseline":"middle","fontSize":21,"fontWeight":"bold","font":"Liberation Serif","color":"black"},"encoding":{"x":{"datum":518,"axis":{"orient":"top","values":[525,550,575,600,625,650,675,700,725,750,775,800,825,850],"labels":false,"title":null,"tickSize":3}},"y":{"datum":0.935,"axis":{"orient":"right","values":[0,0.1,0.2,0.3,0.4,0.5,0.6,0.7,0.8,0.9,1],"labels":false,"title":null,"tickSize":3}}}},
{"mark":{"type":"rule","color":"#ff0000","strokeWidth":3.5},"encoding":{"x":{"datum":683.3,"axis":null},"x2":{"datum":712},"y":{"datum":0.9116,"axis":null}}},
{"mark":{"type":"rule","color":"#0000ff","strokeWidth":3.5},"encoding":{"x":{"datum":683.3,"axis":null},"x2":{"datum":712},"y":{"datum":0.8222,"axis":null}}},
{"mark":{"type":"rule","color":"#00ff00","strokeWidth":3.5},"encoding":{"x":{"datum":683.3,"axis":null},"x2":{"datum":712},"y":{"datum":0.7156,"axis":null}}},
{"mark":{"type":"point","shape":"square","filled":true,"color":"#ff0000","size":130,"opacity":1},"encoding":{"x":{"datum":697.7,"axis":null},"y":{"datum":0.9116,"axis":null}}},
{"mark":{"type":"point","shape":"triangle-up","filled":true,"color":"#0000ff","size":130,"opacity":1},"encoding":{"x":{"datum":697.7,"axis":null},"y":{"datum":0.8222,"axis":null}}},
{"mark":{"type":"point","shape":"circle","filled":true,"color":"#00ff00","size":130,"opacity":1},"encoding":{"x":{"datum":697.7,"axis":null},"y":{"datum":0.7156,"axis":null}}},
{"mark":{"type":"text","text":"Cu1 in DMSO","align":"left","baseline":"middle","fontSize":21,"fontWeight":"bold","font":"Liberation Serif","color":"black"},"encoding":{"x":{"datum":715.3,"axis":null},"y":{"datum":0.9116,"axis":null}}},
{"mark":{"type":"text","text":"Cu1 in CH3CN","align":"left","baseline":"middle","fontSize":21,"fontWeight":"bold","font":"Liberation Serif","color":"black"},"encoding":{"x":{"datum":715.3,"axis":null},"y":{"datum":0.8222,"axis":null}}},
{"mark":{"type":"text","text":"Cu1 in CH3OH","align":"left","baseline":"middle","fontSize":21,"fontWeight":"bold","font":"Liberation Serif","color":"black"},"encoding":{"x":{"datum":715.3,"axis":null},"y":{"datum":0.7156,"axis":null}}}
],"resolve":{"axis":{"x":"independent","y":"independent"}}}
],"resolve":{"scale":{"x":"independent","y":"independent"}}},
{"width":414,"height":304,"layer":[
{"data":{"values":[{}]},"layer":[
{"data":{"name":"cieT"},"mark":{"type":"area","opacity":1,"strokeWidth":0.8},"encoding":{"x":{"field":"cx","type":"quantitative","scale":{"domain":[-1.3805,0.7502],"nice":false,"zero":false},"axis":null},"y":{"field":"y","type":"quantitative","scale":{"domain":[-0.0471,1.7148],"nice":false,"zero":false},"axis":null},"y2":{"field":"y2"},"fill":{"field":"t","type":"nominal","scale":{"domain":["T0","T1","T2","T3","T4","T5","T6","T7","T8","T9","T10","T11","T12","T13","T14","T15","T16","T17","T18","T19","T20","T21","T22","T23"],"range":["#ff1a1a","#ff5000","#ff8800","#ffbb00","#ffee00","#e8ff00","#b8ff00","#80ff00","#40ff00","#10f000","#00f020","#00f850","#00ff80","#00ffb8","#00ffe8","#00e8ff","#00a8ff","#0070ff","#0030ff","#2800ff","#6000ff","#c000ff","#ff00c8","#ff0060"]},"legend":null},"stroke":{"field":"t","type":"nominal","scale":{"domain":["T0","T1","T2","T3","T4","T5","T6","T7","T8","T9","T10","T11","T12","T13","T14","T15","T16","T17","T18","T19","T20","T21","T22","T23"],"range":["#ff1a1a","#ff5000","#ff8800","#ffbb00","#ffee00","#e8ff00","#b8ff00","#80ff00","#40ff00","#10f000","#00f020","#00f850","#00ff80","#00ffb8","#00ffe8","#00e8ff","#00a8ff","#0070ff","#0030ff","#2800ff","#6000ff","#c000ff","#ff00c8","#ff0060"]},"legend":null}}},
{"data":{"name":"cieH"},"mark":{"type":"area","opacity":1,"fill":{"gradient":"radial","x1":0.46,"y1":0.57,"r1":0,"x2":0.46,"y2":0.57,"r2":0.45,"stops":[{"offset":0,"color":"rgba(255,255,255,0.92)"},{"offset":0.3,"color":"rgba(255,255,255,0.45)"},{"offset":0.6,"color":"rgba(255,255,255,0.12)"},{"offset":1,"color":"rgba(255,255,255,0)"}]}},"encoding":{"x":{"field":"cx","type":"quantitative","axis":null},"y":{"field":"top","type":"quantitative","axis":null},"y2":{"field":"bot"}}},
{"mark":{"type":"point","shape":"square","filled":false,"color":"#00c000","strokeWidth":1.2,"size":40,"opacity":1},"encoding":{"x":{"datum":0.58,"axis":null},"y":{"datum":0.418,"axis":null}}},
{"mark":{"type":"point","shape":"triangle-up","filled":false,"color":"#ff1080","strokeWidth":1.2,"size":40,"opacity":1},"encoding":{"x":{"datum":0.585,"axis":null},"y":{"datum":0.41,"axis":null}}},
{"mark":{"type":"point","shape":"square","filled":false,"color":"#000000","strokeWidth":1.5,"size":40,"opacity":1},"encoding":{"x":{"datum":0.657,"axis":null},"y":{"datum":0.341,"axis":null}}}
]},
{"data":{"values":[{}]},"layer":[
{"data":{"name":"l6"},"transform":[{"filter":"datum.s=='D'"}],"mark":{"type":"line","color":"#000000","strokeWidth":3.5,"interpolate":"monotone","clip":true},"encoding":{"x":{"field":"w","type":"quantitative","scale":{"domain":[510,900],"nice":false,"zero":false},"axis":{"values":[550,600,650,700,750,800,850,900],"format":"d","title":"Wavelength/nm","tickSize":5}},"y":{"field":"v","type":"quantitative","scale":{"domain":[0,1.02],"nice":false,"zero":false},"axis":{"values":[0,0.2,0.4,0.6,0.8,1],"format":".1f","title":"Normalized Intensity","tickSize":5}}}},
{"data":{"name":"l6"},"transform":[{"filter":"datum.s=='C'"}],"mark":{"type":"line","color":"#ff1080","strokeWidth":3.5,"interpolate":"monotone","clip":true},"encoding":{"x":{"field":"w","type":"quantitative","axis":null},"y":{"field":"v","type":"quantitative","axis":null}}},
{"data":{"name":"l6"},"transform":[{"filter":"datum.s=='O'"}],"mark":{"type":"line","color":"#ffff00","strokeWidth":3.5,"interpolate":"monotone","clip":true},"encoding":{"x":{"field":"w","type":"quantitative","axis":null},"y":{"field":"v","type":"quantitative","axis":null}}},
{"data":{"name":"m6"},"transform":[{"filter":"datum.s=='D'"}],"mark":{"type":"point","shape":"square","filled":false,"fill":"white","color":"#000000","strokeWidth":1.5,"size":150,"opacity":1,"clip":true},"encoding":{"x":{"field":"w","type":"quantitative","axis":{"values":[525,575,625,675,725,775,825,875],"labels":false,"title":null,"tickSize":3}},"y":{"field":"v","type":"quantitative","axis":{"values":[0.1,0.3,0.5,0.7,0.9],"labels":false,"title":null,"tickSize":3}}}},
{"data":{"name":"m6"},"transform":[{"filter":"datum.s=='C'"}],"mark":{"type":"point","shape":"triangle-up","filled":false,"fill":"white","color":"#ff1080","strokeWidth":1.5,"size":150,"opacity":1,"clip":true},"encoding":{"x":{"field":"w","type":"quantitative","axis":null},"y":{"field":"v","type":"quantitative","axis":null}}},
{"data":{"name":"m6"},"transform":[{"filter":"datum.s=='O'"}],"mark":{"type":"point","shape":"circle","filled":false,"fill":"white","color":"#ffff00","strokeWidth":1.5,"size":150,"opacity":1,"clip":true},"encoding":{"x":{"field":"w","type":"quantitative","axis":null},"y":{"field":"v","type":"quantitative","axis":null}}},
{"mark":{"type":"text","text":"77 K","align":"left","baseline":"middle","fontSize":21,"fontWeight":"bold","font":"Liberation Serif","color":"black"},"encoding":{"x":{"datum":531.7,"axis":{"orient":"top","values":[525,550,575,600,625,650,675,700,725,750,775,800,825,850,875,900],"labels":false,"title":null,"tickSize":3}},"y":{"datum":0.916,"axis":{"orient":"right","values":[0,0.1,0.2,0.3,0.4,0.5,0.6,0.7,0.8,0.9,1],"labels":false,"title":null,"tickSize":3}}}},
{"mark":{"type":"rule","color":"#000000","strokeWidth":3.5},"encoding":{"x":{"datum":710.7,"axis":null},"x2":{"datum":742.7},"y":{"datum":0.9294,"axis":null}}},
{"mark":{"type":"rule","color":"#ff1080","strokeWidth":3.5},"encoding":{"x":{"datum":710.7,"axis":null},"x2":{"datum":742.7},"y":{"datum":0.8388,"axis":null}}},
{"mark":{"type":"rule","color":"#ffff00","strokeWidth":3.5},"encoding":{"x":{"datum":710.7,"axis":null},"x2":{"datum":742.7},"y":{"datum":0.728,"axis":null}}},
{"mark":{"type":"point","shape":"square","filled":false,"fill":"white","color":"#000000","strokeWidth":1.5,"size":150,"opacity":1},"encoding":{"x":{"datum":726.7,"axis":null},"y":{"datum":0.9294,"axis":null}}},
{"mark":{"type":"point","shape":"triangle-up","filled":false,"fill":"white","color":"#ff1080","strokeWidth":1.5,"size":150,"opacity":1},"encoding":{"x":{"datum":726.7,"axis":null},"y":{"datum":0.8388,"axis":null}}},
{"mark":{"type":"point","shape":"circle","filled":false,"fill":"white","color":"#ffff00","strokeWidth":1.5,"size":150,"opacity":1},"encoding":{"x":{"datum":726.7,"axis":null},"y":{"datum":0.728,"axis":null}}},
{"mark":{"type":"text","text":"Cu1 in DMSO","align":"left","baseline":"middle","fontSize":21,"fontWeight":"bold","font":"Liberation Serif","color":"black"},"encoding":{"x":{"datum":747.4,"axis":null},"y":{"datum":0.9294,"axis":null}}},
{"mark":{"type":"text","text":"Cu1 in CH3CN","align":"left","baseline":"middle","fontSize":21,"fontWeight":"bold","font":"Liberation Serif","color":"black"},"encoding":{"x":{"datum":747.4,"axis":null},"y":{"datum":0.8388,"axis":null}}},
{"mark":{"type":"text","text":"Cu1 in CH3OH","align":"left","baseline":"middle","fontSize":21,"fontWeight":"bold","font":"Liberation Serif","color":"black"},"encoding":{"x":{"datum":747.4,"axis":null},"y":{"datum":0.728,"axis":null}}}
],"resolve":{"axis":{"x":"independent","y":"independent"}}}
],"resolve":{"scale":{"x":"independent","y":"independent"}}}
],
"columns":2,
"spacing":{"row":68,"column":95},
"bounds":"flush",
"config":{
"view":{"stroke":"black","strokeWidth":1.3},
"axis":{"domain":false,"grid":false,"tickColor":"black","tickWidth":1.3,"labelFont":"Liberation Serif","labelFontSize":19,"labelFontWeight":"bold","labelColor":"black","labelPadding":3,"titleFont":"Liberation Serif","titleFontSize":24,"titleFontWeight":"bold","titleColor":"black","labelFlush":false,"labelOverlap":false,"labelBound":false},
"axisX":{"titlePadding":13},
"axisY":{"titlePadding":20},
"text":{"font":"Liberation Serif"}
}
}
